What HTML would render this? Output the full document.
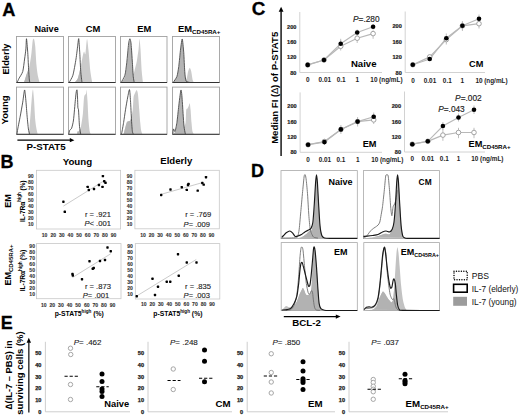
<!DOCTYPE html>
<html><head><meta charset="utf-8"><style>
html,body{margin:0;padding:0;background:#fff;width:520px;height:416px;overflow:hidden}
svg{display:block;font-family:"Liberation Sans", sans-serif}
</style></head><body>
<svg width="520" height="416" viewBox="0 0 520 416">
<rect x="0" y="0" width="520" height="416" fill="#fff"/>
<text x="2.2" y="15.7" font-size="18.2" font-weight="bold" font-style="normal" text-anchor="start" fill="#000" stroke="#000" stroke-width="0.3">A</text>
<text x="0.6" y="168.4" font-size="18" font-weight="bold" font-style="normal" text-anchor="start" fill="#000" stroke="#000" stroke-width="0.3">B</text>
<text x="251.8" y="15" font-size="18.8" font-weight="bold" font-style="normal" text-anchor="start" fill="#000" stroke="#000" stroke-width="0.3">C</text>
<text x="251.1" y="176.8" font-size="18" font-weight="bold" font-style="normal" text-anchor="start" fill="#000" stroke="#000" stroke-width="0.3">D</text>
<text x="0.7" y="329" font-size="18" font-weight="bold" font-style="normal" text-anchor="start" fill="#000" stroke="#000" stroke-width="0.3">E</text>
<text x="46.6" y="31.9" font-size="9.1" font-weight="bold" font-style="normal" text-anchor="middle" fill="#000">Naive</text>
<text x="93.1" y="31.9" font-size="9.4" font-weight="bold" font-style="normal" text-anchor="middle" fill="#000">CM</text>
<text x="144.2" y="31.9" font-size="9.4" font-weight="bold" font-style="normal" text-anchor="middle" fill="#000">EM</text>
<text x="178.0" y="31.9" font-size="9.4" font-weight="bold">EM<tspan font-size="6.2" dy="2.4">CD45RA+</tspan></text>
<text x="9.3" y="59.1" font-size="9.3" font-weight="bold" font-style="normal" text-anchor="middle" fill="#000" transform="rotate(-90 9.3 59.1)">Elderly</text>
<text x="8.2" y="109.9" font-size="9.6" font-weight="bold" font-style="normal" text-anchor="middle" fill="#000" transform="rotate(-90 8.2 109.9)">Young</text>
<path d="M24.00,82.50 C24.22,81.80 25.25,78.51 25.90,76.50 C26.55,74.49 28.95,68.02 29.60,65.25 C30.25,62.48 31.13,55.67 31.50,52.75 C31.87,49.83 32.46,41.85 32.75,40.25 C33.04,38.65 33.71,38.27 34.00,39.00 C34.29,39.73 34.96,43.44 35.25,46.50 C35.54,49.56 36.21,61.90 36.50,65.25 C36.79,68.60 37.39,73.24 37.75,75.25 C38.11,77.26 39.38,81.65 39.60,82.50 Z" fill="#cbcbcb" stroke="none"/>
<clipPath id="ca00"><path d="M24.00,82.50 C24.22,81.80 25.25,78.51 25.90,76.50 C26.55,74.49 28.95,68.02 29.60,65.25 C30.25,62.48 31.13,55.67 31.50,52.75 C31.87,49.83 32.46,41.85 32.75,40.25 C33.04,38.65 33.71,38.27 34.00,39.00 C34.29,39.73 34.96,43.44 35.25,46.50 C35.54,49.56 36.21,61.90 36.50,65.25 C36.79,68.60 37.39,73.24 37.75,75.25 C38.11,77.26 39.38,81.65 39.60,82.50 Z"/></clipPath>
<path d="M17.10,82.50 C17.32,82.02 18.34,79.68 19.00,78.40 C19.66,77.12 22.10,73.76 22.75,71.50 C23.40,69.24 24.23,61.62 24.60,59.00 C24.97,56.38 25.68,51.36 25.90,49.00 C26.12,46.64 26.28,38.31 26.50,38.75 C26.72,39.19 27.49,48.93 27.75,52.75 C28.01,56.57 28.53,68.15 28.75,71.50 C28.97,74.85 29.34,80.22 29.60,81.50 C29.86,82.78 30.84,82.38 31.00,82.50 Z" fill="#b4b4b4" clip-path="url(#ca00)"/>
<rect x="16.5" y="36.5" width="47" height="46" fill="none" stroke="#a0a0a0" stroke-width="0.9"/>
<line x1="16.5" y1="82.5" x2="63.5" y2="82.5" stroke="#333" stroke-width="1"/>
<path d="M17.10,82.50 C17.32,82.02 18.34,79.68 19.00,78.40 C19.66,77.12 22.10,73.76 22.75,71.50 C23.40,69.24 24.23,61.62 24.60,59.00 C24.97,56.38 25.68,51.36 25.90,49.00 C26.12,46.64 26.28,38.31 26.50,38.75 C26.72,39.19 27.49,48.93 27.75,52.75 C28.01,56.57 28.53,68.15 28.75,71.50 C28.97,74.85 29.34,80.22 29.60,81.50 C29.86,82.78 30.84,82.38 31.00,82.50" fill="none" stroke="#3c3c3c" stroke-width="0.85" stroke-linejoin="round"/>
<path d="M74.75,82.50 C75.13,81.97 77.27,80.01 78.00,78.00 C78.73,75.99 80.43,67.90 81.00,65.25 C81.57,62.60 82.54,56.85 82.90,55.25 C83.26,53.65 83.81,51.65 84.10,51.50 C84.39,51.35 85.06,55.46 85.40,54.00 C85.74,52.54 86.64,39.44 87.00,39.00 C87.36,38.56 88.10,46.46 88.50,50.25 C88.90,54.04 89.96,67.74 90.40,71.50 C90.84,75.26 92.03,81.22 92.25,82.50 Z" fill="#cbcbcb" stroke="none"/>
<clipPath id="ca01"><path d="M74.75,82.50 C75.13,81.97 77.27,80.01 78.00,78.00 C78.73,75.99 80.43,67.90 81.00,65.25 C81.57,62.60 82.54,56.85 82.90,55.25 C83.26,53.65 83.81,51.65 84.10,51.50 C84.39,51.35 85.06,55.46 85.40,54.00 C85.74,52.54 86.64,39.44 87.00,39.00 C87.36,38.56 88.10,46.46 88.50,50.25 C88.90,54.04 89.96,67.74 90.40,71.50 C90.84,75.26 92.03,81.22 92.25,82.50 Z"/></clipPath>
<path d="M69.10,82.50 C69.54,81.65 72.09,77.99 72.90,75.25 C73.71,72.51 75.42,62.65 76.00,59.00 C76.58,55.35 77.58,46.36 77.90,44.00 C78.22,41.64 78.53,37.73 78.75,38.75 C78.97,39.77 79.52,48.93 79.75,52.75 C79.98,56.57 80.49,68.03 80.75,71.50 C81.01,74.97 81.85,81.22 82.00,82.50 Z" fill="#b4b4b4" clip-path="url(#ca01)"/>
<rect x="68.5" y="36.5" width="47" height="46" fill="none" stroke="#a0a0a0" stroke-width="0.9"/>
<line x1="68.5" y1="82.5" x2="115.5" y2="82.5" stroke="#333" stroke-width="1"/>
<path d="M69.10,82.50 C69.54,81.65 72.09,77.99 72.90,75.25 C73.71,72.51 75.42,62.65 76.00,59.00 C76.58,55.35 77.58,46.36 77.90,44.00 C78.22,41.64 78.53,37.73 78.75,38.75 C78.97,39.77 79.52,48.93 79.75,52.75 C79.98,56.57 80.49,68.03 80.75,71.50 C81.01,74.97 81.85,81.22 82.00,82.50" fill="none" stroke="#3c3c3c" stroke-width="0.85" stroke-linejoin="round"/>
<path d="M121.50,82.50 C121.91,81.86 124.36,79.04 125.00,77.00 C125.64,74.96 126.56,68.50 127.00,65.00 C127.44,61.50 128.45,49.80 128.80,47.00 C129.15,44.20 129.72,41.00 130.00,41.00 C130.28,41.00 130.91,44.20 131.20,47.00 C131.49,49.80 132.23,61.85 132.50,65.00 C132.77,68.15 133.22,73.53 133.50,74.00 C133.78,74.47 134.52,70.46 134.90,69.00 C135.28,67.54 136.32,63.83 136.75,61.50 C137.18,59.17 138.28,51.62 138.60,49.00 C138.92,46.38 139.28,39.00 139.50,39.00 C139.72,39.00 140.24,45.21 140.50,49.00 C140.76,52.79 141.46,67.59 141.75,71.50 C142.04,75.41 142.85,81.22 143.00,82.50 Z" fill="#cbcbcb" stroke="none"/>
<clipPath id="ca02"><path d="M121.50,82.50 C121.91,81.86 124.36,79.04 125.00,77.00 C125.64,74.96 126.56,68.50 127.00,65.00 C127.44,61.50 128.45,49.80 128.80,47.00 C129.15,44.20 129.72,41.00 130.00,41.00 C130.28,41.00 130.91,44.20 131.20,47.00 C131.49,49.80 132.23,61.85 132.50,65.00 C132.77,68.15 133.22,73.53 133.50,74.00 C133.78,74.47 134.52,70.46 134.90,69.00 C135.28,67.54 136.32,63.83 136.75,61.50 C137.18,59.17 138.28,51.62 138.60,49.00 C138.92,46.38 139.28,39.00 139.50,39.00 C139.72,39.00 140.24,45.21 140.50,49.00 C140.76,52.79 141.46,67.59 141.75,71.50 C142.04,75.41 142.85,81.22 143.00,82.50 Z"/></clipPath>
<path d="M121.10,82.50 C121.54,81.65 124.24,77.55 124.90,75.25 C125.56,72.95 126.32,66.40 126.75,62.75 C127.18,59.10 128.23,46.80 128.60,44.00 C128.97,41.20 129.61,38.75 129.90,38.75 C130.19,38.75 130.81,41.20 131.10,44.00 C131.39,46.80 132.15,58.96 132.40,62.75 C132.65,66.54 133.03,74.20 133.25,76.50 C133.47,78.80 134.13,81.80 134.25,82.50 Z" fill="#b4b4b4" clip-path="url(#ca02)"/>
<rect x="120.5" y="36.5" width="46.5" height="46" fill="none" stroke="#a0a0a0" stroke-width="0.9"/>
<line x1="120.5" y1="82.5" x2="167" y2="82.5" stroke="#333" stroke-width="1"/>
<path d="M121.10,82.50 C121.54,81.65 124.24,77.55 124.90,75.25 C125.56,72.95 126.32,66.40 126.75,62.75 C127.18,59.10 128.23,46.80 128.60,44.00 C128.97,41.20 129.61,38.75 129.90,38.75 C130.19,38.75 130.81,41.20 131.10,44.00 C131.39,46.80 132.15,58.96 132.40,62.75 C132.65,66.54 133.03,74.20 133.25,76.50 C133.47,78.80 134.13,81.80 134.25,82.50" fill="none" stroke="#3c3c3c" stroke-width="0.85" stroke-linejoin="round"/>
<path d="M173.50,82.50 C173.91,81.86 176.36,78.81 177.00,77.00 C177.64,75.19 178.56,70.15 179.00,67.00 C179.44,63.85 180.43,53.09 180.80,50.00 C181.17,46.91 181.87,40.15 182.20,40.50 C182.53,40.85 183.32,49.44 183.60,53.00 C183.88,56.56 184.34,67.97 184.60,71.00 C184.86,74.03 185.53,78.21 185.80,79.00 C186.07,79.79 186.63,78.62 186.90,77.75 C187.17,76.88 187.77,72.67 188.10,71.50 C188.43,70.33 189.38,67.75 189.75,67.75 C190.12,67.75 190.90,70.04 191.25,71.50 C191.60,72.96 192.43,78.97 192.75,80.25 C193.07,81.53 193.85,82.24 194.00,82.50 Z" fill="#cbcbcb" stroke="none"/>
<clipPath id="ca03"><path d="M173.50,82.50 C173.91,81.86 176.36,78.81 177.00,77.00 C177.64,75.19 178.56,70.15 179.00,67.00 C179.44,63.85 180.43,53.09 180.80,50.00 C181.17,46.91 181.87,40.15 182.20,40.50 C182.53,40.85 183.32,49.44 183.60,53.00 C183.88,56.56 184.34,67.97 184.60,71.00 C184.86,74.03 185.53,78.21 185.80,79.00 C186.07,79.79 186.63,78.62 186.90,77.75 C187.17,76.88 187.77,72.67 188.10,71.50 C188.43,70.33 189.38,67.75 189.75,67.75 C190.12,67.75 190.90,70.04 191.25,71.50 C191.60,72.96 192.43,78.97 192.75,80.25 C193.07,81.53 193.85,82.24 194.00,82.50 Z"/></clipPath>
<path d="M173.10,82.50 C173.54,81.80 176.24,78.37 176.90,76.50 C177.56,74.63 178.32,69.71 178.75,66.50 C179.18,63.29 180.19,52.21 180.60,49.00 C181.01,45.79 181.88,38.56 182.25,39.00 C182.62,39.44 183.46,48.96 183.75,52.75 C184.04,56.54 184.49,68.22 184.75,71.50 C185.01,74.78 185.39,79.62 186.00,80.90 C186.61,82.18 189.53,82.31 190.00,82.50 Z" fill="#b4b4b4" clip-path="url(#ca03)"/>
<rect x="172.5" y="36.5" width="47" height="46" fill="none" stroke="#a0a0a0" stroke-width="0.9"/>
<line x1="172.5" y1="82.5" x2="219.5" y2="82.5" stroke="#333" stroke-width="1"/>
<path d="M173.10,82.50 C173.54,81.80 176.24,78.37 176.90,76.50 C177.56,74.63 178.32,69.71 178.75,66.50 C179.18,63.29 180.19,52.21 180.60,49.00 C181.01,45.79 181.88,38.56 182.25,39.00 C182.62,39.44 183.46,48.96 183.75,52.75 C184.04,56.54 184.49,68.22 184.75,71.50 C185.01,74.78 185.39,79.62 186.00,80.90 C186.61,82.18 189.53,82.31 190.00,82.50" fill="none" stroke="#3c3c3c" stroke-width="0.85" stroke-linejoin="round"/>
<path d="M28.75,134.30 C28.85,133.38 29.35,129.24 29.60,126.38 C29.85,123.52 30.61,113.51 30.90,109.78 C31.19,106.06 31.86,96.81 32.10,94.46 C32.34,92.10 32.78,89.01 33.00,89.60 C33.22,90.20 33.74,96.02 34.00,99.56 C34.26,103.11 34.96,116.57 35.25,120.00 C35.54,123.42 36.21,127.27 36.50,128.94 C36.79,130.61 37.60,133.67 37.75,134.30 Z" fill="#cbcbcb" stroke="none"/>
<clipPath id="ca10"><path d="M28.75,134.30 C28.85,133.38 29.35,129.24 29.60,126.38 C29.85,123.52 30.61,113.51 30.90,109.78 C31.19,106.06 31.86,96.81 32.10,94.46 C32.34,92.10 32.78,89.01 33.00,89.60 C33.22,90.20 33.74,96.02 34.00,99.56 C34.26,103.11 34.96,116.57 35.25,120.00 C35.54,123.42 36.21,127.27 36.50,128.94 C36.79,130.61 37.60,133.67 37.75,134.30 Z"/></clipPath>
<path d="M17.00,134.30 C17.09,133.67 17.37,131.05 17.75,128.94 C18.13,126.82 19.67,119.29 20.25,116.17 C20.83,113.04 22.24,105.18 22.75,102.12 C23.26,99.06 24.23,90.11 24.60,89.96 C24.97,89.81 25.61,97.78 25.90,100.84 C26.19,103.90 26.81,112.89 27.10,116.17 C27.39,119.44 28.11,126.82 28.40,128.94 C28.69,131.05 29.46,133.67 29.60,134.30 Z" fill="#b4b4b4" clip-path="url(#ca10)"/>
<rect x="16.5" y="87.1" width="47" height="47.2" fill="none" stroke="#a0a0a0" stroke-width="0.9"/>
<line x1="16.5" y1="134.3" x2="63.5" y2="134.3" stroke="#333" stroke-width="1"/>
<path d="M17.00,134.30 C17.09,133.67 17.37,131.05 17.75,128.94 C18.13,126.82 19.67,119.29 20.25,116.17 C20.83,113.04 22.24,105.18 22.75,102.12 C23.26,99.06 24.23,90.11 24.60,89.96 C24.97,89.81 25.61,97.78 25.90,100.84 C26.19,103.90 26.81,112.89 27.10,116.17 C27.39,119.44 28.11,126.82 28.40,128.94 C28.69,131.05 29.46,133.67 29.60,134.30" fill="none" stroke="#3c3c3c" stroke-width="0.85" stroke-linejoin="round"/>
<path d="M77.25,134.30 C77.28,133.97 77.30,131.85 77.50,131.49 C77.70,131.13 78.59,131.83 79.00,131.24 C79.41,130.64 80.55,128.44 81.00,126.38 C81.45,124.33 82.54,117.04 82.90,113.61 C83.26,110.18 83.74,99.32 84.10,97.01 C84.46,94.70 85.71,94.67 86.00,93.84 C86.29,93.02 86.42,89.14 86.60,89.96 C86.77,90.78 87.28,97.34 87.50,100.84 C87.72,104.35 88.24,116.42 88.50,120.00 C88.76,123.57 89.46,129.82 89.75,131.49 C90.04,133.16 90.85,133.97 91.00,134.30 Z" fill="#cbcbcb" stroke="none"/>
<clipPath id="ca11"><path d="M77.25,134.30 C77.28,133.97 77.30,131.85 77.50,131.49 C77.70,131.13 78.59,131.83 79.00,131.24 C79.41,130.64 80.55,128.44 81.00,126.38 C81.45,124.33 82.54,117.04 82.90,113.61 C83.26,110.18 83.74,99.32 84.10,97.01 C84.46,94.70 85.71,94.67 86.00,93.84 C86.29,93.02 86.42,89.14 86.60,89.96 C86.77,90.78 87.28,97.34 87.50,100.84 C87.72,104.35 88.24,116.42 88.50,120.00 C88.76,123.57 89.46,129.82 89.75,131.49 C90.04,133.16 90.85,133.97 91.00,134.30 Z"/></clipPath>
<path d="M68.75,134.30 C68.87,133.82 69.42,130.92 69.75,130.21 C70.08,129.51 71.16,129.46 71.60,128.27 C72.04,127.08 73.06,123.35 73.50,120.00 C73.94,116.65 75.08,102.84 75.40,99.56 C75.72,96.29 76.06,93.02 76.25,91.90 C76.44,90.78 76.85,89.36 77.00,89.96 C77.15,90.56 77.39,94.92 77.50,97.01 C77.61,99.10 77.78,106.35 77.90,107.84 C78.02,109.33 78.31,107.62 78.50,109.78 C78.69,111.94 79.24,123.52 79.50,126.38 C79.76,129.24 80.60,133.38 80.75,134.30 Z" fill="#b4b4b4" clip-path="url(#ca11)"/>
<rect x="68.5" y="87.1" width="47" height="47.2" fill="none" stroke="#a0a0a0" stroke-width="0.9"/>
<line x1="68.5" y1="134.3" x2="115.5" y2="134.3" stroke="#333" stroke-width="1"/>
<path d="M68.75,134.30 C68.87,133.82 69.42,130.92 69.75,130.21 C70.08,129.51 71.16,129.46 71.60,128.27 C72.04,127.08 73.06,123.35 73.50,120.00 C73.94,116.65 75.08,102.84 75.40,99.56 C75.72,96.29 76.06,93.02 76.25,91.90 C76.44,90.78 76.85,89.36 77.00,89.96 C77.15,90.56 77.39,94.92 77.50,97.01 C77.61,99.10 77.78,106.35 77.90,107.84 C78.02,109.33 78.31,107.62 78.50,109.78 C78.69,111.94 79.24,123.52 79.50,126.38 C79.76,129.24 80.60,133.38 80.75,134.30" fill="none" stroke="#3c3c3c" stroke-width="0.85" stroke-linejoin="round"/>
<path d="M123.60,134.30 C123.97,132.93 126.17,124.07 126.75,122.55 C127.33,121.03 128.16,121.57 128.60,121.27 C129.04,120.98 130.02,121.34 130.50,120.00 C130.98,118.66 132.39,112.46 132.75,109.78 C133.11,107.10 133.35,98.95 133.60,97.01 C133.85,95.07 134.53,94.00 134.90,93.18 C135.27,92.36 136.39,89.81 136.75,89.96 C137.11,90.11 137.71,92.14 138.00,94.46 C138.29,96.77 138.99,106.50 139.25,109.78 C139.51,113.06 140.03,120.17 140.25,122.55 C140.47,124.93 140.84,128.84 141.10,130.21 C141.36,131.58 142.34,133.82 142.50,134.30 Z" fill="#cbcbcb" stroke="none"/>
<clipPath id="ca12"><path d="M123.60,134.30 C123.97,132.93 126.17,124.07 126.75,122.55 C127.33,121.03 128.16,121.57 128.60,121.27 C129.04,120.98 130.02,121.34 130.50,120.00 C130.98,118.66 132.39,112.46 132.75,109.78 C133.11,107.10 133.35,98.95 133.60,97.01 C133.85,95.07 134.53,94.00 134.90,93.18 C135.27,92.36 136.39,89.81 136.75,89.96 C137.11,90.11 137.71,92.14 138.00,94.46 C138.29,96.77 138.99,106.50 139.25,109.78 C139.51,113.06 140.03,120.17 140.25,122.55 C140.47,124.93 140.84,128.84 141.10,130.21 C141.36,131.58 142.34,133.82 142.50,134.30 Z"/></clipPath>
<path d="M120.75,134.30 C120.87,134.12 121.42,134.14 121.75,132.77 C122.08,131.40 123.16,125.23 123.60,122.55 C124.04,119.87 125.02,112.76 125.50,109.78 C125.98,106.80 127.28,99.36 127.75,97.01 C128.22,94.66 129.18,89.16 129.50,89.60 C129.82,90.05 130.27,97.30 130.50,100.84 C130.73,104.39 131.28,116.42 131.50,120.00 C131.72,123.57 132.17,129.82 132.40,131.49 C132.63,133.16 133.37,133.97 133.50,134.30 Z" fill="#b4b4b4" clip-path="url(#ca12)"/>
<rect x="120.5" y="87.1" width="46.5" height="47.2" fill="none" stroke="#a0a0a0" stroke-width="0.9"/>
<line x1="120.5" y1="134.3" x2="167" y2="134.3" stroke="#333" stroke-width="1"/>
<path d="M120.75,134.30 C120.87,134.12 121.42,134.14 121.75,132.77 C122.08,131.40 123.16,125.23 123.60,122.55 C124.04,119.87 125.02,112.76 125.50,109.78 C125.98,106.80 127.28,99.36 127.75,97.01 C128.22,94.66 129.18,89.16 129.50,89.60 C129.82,90.05 130.27,97.30 130.50,100.84 C130.73,104.39 131.28,116.42 131.50,120.00 C131.72,123.57 132.17,129.82 132.40,131.49 C132.63,133.16 133.37,133.97 133.50,134.30" fill="none" stroke="#3c3c3c" stroke-width="0.85" stroke-linejoin="round"/>
<path d="M173.50,134.30 C173.73,133.94 175.09,132.55 175.50,131.24 C175.91,129.92 176.60,125.92 177.00,123.06 C177.40,120.20 178.55,109.70 178.90,106.72 C179.25,103.74 179.75,99.19 180.00,97.52 C180.25,95.85 180.78,92.41 181.00,92.41 C181.22,92.41 181.67,95.02 181.90,97.52 C182.13,100.02 182.75,110.53 183.00,113.87 C183.25,117.20 183.70,125.11 184.00,126.13 C184.30,127.14 185.34,124.46 185.60,122.55 C185.86,120.64 186.03,111.42 186.25,109.78 C186.47,108.14 187.21,108.95 187.50,108.50 C187.79,108.06 188.49,106.55 188.75,105.95 C189.01,105.35 189.53,102.95 189.75,103.40 C189.97,103.84 190.40,107.55 190.60,109.78 C190.80,112.02 191.28,120.02 191.50,122.55 C191.72,125.08 192.21,130.12 192.50,131.49 C192.79,132.86 193.82,133.97 194.00,134.30 Z" fill="#cbcbcb" stroke="none"/>
<clipPath id="ca13"><path d="M173.50,134.30 C173.73,133.94 175.09,132.55 175.50,131.24 C175.91,129.92 176.60,125.92 177.00,123.06 C177.40,120.20 178.55,109.70 178.90,106.72 C179.25,103.74 179.75,99.19 180.00,97.52 C180.25,95.85 180.78,92.41 181.00,92.41 C181.22,92.41 181.67,95.02 181.90,97.52 C182.13,100.02 182.75,110.53 183.00,113.87 C183.25,117.20 183.70,125.11 184.00,126.13 C184.30,127.14 185.34,124.46 185.60,122.55 C185.86,120.64 186.03,111.42 186.25,109.78 C186.47,108.14 187.21,108.95 187.50,108.50 C187.79,108.06 188.49,106.55 188.75,105.95 C189.01,105.35 189.53,102.95 189.75,103.40 C189.97,103.84 190.40,107.55 190.60,109.78 C190.80,112.02 191.28,120.02 191.50,122.55 C191.72,125.08 192.21,130.12 192.50,131.49 C192.79,132.86 193.82,133.97 194.00,134.30 Z"/></clipPath>
<path d="M172.75,134.30 C172.84,133.67 173.24,129.26 173.50,128.94 C173.76,128.61 174.60,132.24 175.00,131.49 C175.40,130.75 176.46,125.53 176.90,122.55 C177.34,119.57 178.39,109.08 178.75,105.95 C179.11,102.82 179.74,97.60 180.00,95.73 C180.26,93.87 180.78,89.96 181.00,89.96 C181.22,89.96 181.66,92.97 181.90,95.73 C182.15,98.49 182.85,110.04 183.10,113.61 C183.34,117.19 183.75,124.08 184.00,126.38 C184.25,128.69 185.02,132.46 185.25,133.38 C185.48,134.30 185.91,134.19 186.00,134.30 Z" fill="#b4b4b4" clip-path="url(#ca13)"/>
<rect x="172.5" y="87.1" width="47" height="47.2" fill="none" stroke="#a0a0a0" stroke-width="0.9"/>
<line x1="172.5" y1="134.3" x2="219.5" y2="134.3" stroke="#333" stroke-width="1"/>
<path d="M172.75,134.30 C172.84,133.67 173.24,129.26 173.50,128.94 C173.76,128.61 174.60,132.24 175.00,131.49 C175.40,130.75 176.46,125.53 176.90,122.55 C177.34,119.57 178.39,109.08 178.75,105.95 C179.11,102.82 179.74,97.60 180.00,95.73 C180.26,93.87 180.78,89.96 181.00,89.96 C181.22,89.96 181.66,92.97 181.90,95.73 C182.15,98.49 182.85,110.04 183.10,113.61 C183.34,117.19 183.75,124.08 184.00,126.38 C184.25,128.69 185.02,132.46 185.25,133.38 C185.48,134.30 185.91,134.19 186.00,134.30" fill="none" stroke="#3c3c3c" stroke-width="0.85" stroke-linejoin="round"/>
<line x1="17.4" y1="140.2" x2="70.3" y2="140.2" stroke="#000" stroke-width="1.3"/>
<path d="M74.4,140.2 L69.8,138.1 L69.8,142.3 Z" fill="#000"/>
<text x="46" y="150" font-size="9.5" font-weight="bold" font-style="normal" text-anchor="middle" fill="#000" textLength="39.2" lengthAdjust="spacingAndGlyphs">P-STAT5</text>
<text x="77.4" y="164.6" font-size="9.7" font-weight="bold" font-style="normal" text-anchor="middle" fill="#000">Young</text>
<text x="176.3" y="163.6" font-size="9.6" font-weight="bold" font-style="normal" text-anchor="middle" fill="#000">Elderly</text>
<rect x="36.4" y="170.3" width="84.2" height="58.7" fill="none" stroke="#c8c8c8" stroke-width="0.8"/>
<text x="33.6" y="177.7" font-size="5.1" font-weight="bold" font-style="normal" text-anchor="end" fill="#333" stroke="#333" stroke-width="0.1">90</text>
<text x="33.6" y="183.738" font-size="5.1" font-weight="bold" font-style="normal" text-anchor="end" fill="#333" stroke="#333" stroke-width="0.1">80</text>
<text x="33.6" y="189.775" font-size="5.1" font-weight="bold" font-style="normal" text-anchor="end" fill="#333" stroke="#333" stroke-width="0.1">70</text>
<text x="33.6" y="195.812" font-size="5.1" font-weight="bold" font-style="normal" text-anchor="end" fill="#333" stroke="#333" stroke-width="0.1">60</text>
<text x="33.6" y="201.85" font-size="5.1" font-weight="bold" font-style="normal" text-anchor="end" fill="#333" stroke="#333" stroke-width="0.1">50</text>
<text x="33.6" y="207.888" font-size="5.1" font-weight="bold" font-style="normal" text-anchor="end" fill="#333" stroke="#333" stroke-width="0.1">40</text>
<text x="33.6" y="213.925" font-size="5.1" font-weight="bold" font-style="normal" text-anchor="end" fill="#333" stroke="#333" stroke-width="0.1">30</text>
<text x="33.6" y="219.963" font-size="5.1" font-weight="bold" font-style="normal" text-anchor="end" fill="#333" stroke="#333" stroke-width="0.1">20</text>
<text x="33.6" y="226" font-size="5.1" font-weight="bold" font-style="normal" text-anchor="end" fill="#333" stroke="#333" stroke-width="0.1">10</text>
<text x="44.6" y="237.2" font-size="5.1" font-weight="bold" font-style="normal" text-anchor="middle" fill="#333" stroke="#333" stroke-width="0.1">10</text>
<text x="53.2125" y="237.2" font-size="5.1" font-weight="bold" font-style="normal" text-anchor="middle" fill="#333" stroke="#333" stroke-width="0.1">20</text>
<text x="61.825" y="237.2" font-size="5.1" font-weight="bold" font-style="normal" text-anchor="middle" fill="#333" stroke="#333" stroke-width="0.1">30</text>
<text x="70.4375" y="237.2" font-size="5.1" font-weight="bold" font-style="normal" text-anchor="middle" fill="#333" stroke="#333" stroke-width="0.1">40</text>
<text x="79.05" y="237.2" font-size="5.1" font-weight="bold" font-style="normal" text-anchor="middle" fill="#333" stroke="#333" stroke-width="0.1">50</text>
<text x="87.6625" y="237.2" font-size="5.1" font-weight="bold" font-style="normal" text-anchor="middle" fill="#333" stroke="#333" stroke-width="0.1">60</text>
<text x="96.275" y="237.2" font-size="5.1" font-weight="bold" font-style="normal" text-anchor="middle" fill="#333" stroke="#333" stroke-width="0.1">70</text>
<text x="104.888" y="237.2" font-size="5.1" font-weight="bold" font-style="normal" text-anchor="middle" fill="#333" stroke="#333" stroke-width="0.1">80</text>
<text x="113.5" y="237.2" font-size="5.1" font-weight="bold" font-style="normal" text-anchor="middle" fill="#333" stroke="#333" stroke-width="0.1">90</text>
<line x1="63.4" y1="206.1" x2="104.2" y2="180.7" stroke="#c4c4c4" stroke-width="0.9"/>
<rect x="62.2" y="200.5" width="2.4" height="2.4" rx="0.6" fill="#000"/>
<rect x="63.6" y="210.6" width="2.4" height="2.4" rx="0.6" fill="#000"/>
<rect x="86.5" y="185.7" width="2.4" height="2.4" rx="0.6" fill="#000"/>
<rect x="87.6" y="188.8" width="2.4" height="2.4" rx="0.6" fill="#000"/>
<rect x="92.8" y="187.8" width="2.4" height="2.4" rx="0.6" fill="#000"/>
<rect x="97.7" y="183.8" width="2.4" height="2.4" rx="0.6" fill="#000"/>
<rect x="101.7" y="174.9" width="2.4" height="2.4" rx="0.6" fill="#000"/>
<rect x="101.3" y="185.7" width="2.4" height="2.4" rx="0.6" fill="#000"/>
<rect x="103" y="180" width="2.4" height="2.4" rx="0.6" fill="#000"/>
<rect x="104.3" y="181.6" width="2.4" height="2.4" rx="0.6" fill="#000"/>
<text x="110.9" y="217" font-size="7.6" font-weight="normal" font-style="normal" text-anchor="end" fill="#1a1a1a" stroke="#1a1a1a" stroke-width="0.12">r = .921</text>
<text x="110.9" y="226.4" font-size="7.6" text-anchor="end" fill="#1a1a1a" stroke="#1a1a1a" stroke-width="0.12"><tspan font-style="italic">P</tspan>&lt; .001</text>
<rect x="134.9" y="170.3" width="84.4" height="58.5" fill="none" stroke="#c8c8c8" stroke-width="0.8"/>
<text x="132.4" y="177.7" font-size="5.1" font-weight="bold" font-style="normal" text-anchor="end" fill="#333" stroke="#333" stroke-width="0.1">90</text>
<text x="132.4" y="183.738" font-size="5.1" font-weight="bold" font-style="normal" text-anchor="end" fill="#333" stroke="#333" stroke-width="0.1">80</text>
<text x="132.4" y="189.775" font-size="5.1" font-weight="bold" font-style="normal" text-anchor="end" fill="#333" stroke="#333" stroke-width="0.1">70</text>
<text x="132.4" y="195.812" font-size="5.1" font-weight="bold" font-style="normal" text-anchor="end" fill="#333" stroke="#333" stroke-width="0.1">60</text>
<text x="132.4" y="201.85" font-size="5.1" font-weight="bold" font-style="normal" text-anchor="end" fill="#333" stroke="#333" stroke-width="0.1">50</text>
<text x="132.4" y="207.888" font-size="5.1" font-weight="bold" font-style="normal" text-anchor="end" fill="#333" stroke="#333" stroke-width="0.1">40</text>
<text x="132.4" y="213.925" font-size="5.1" font-weight="bold" font-style="normal" text-anchor="end" fill="#333" stroke="#333" stroke-width="0.1">30</text>
<text x="132.4" y="219.963" font-size="5.1" font-weight="bold" font-style="normal" text-anchor="end" fill="#333" stroke="#333" stroke-width="0.1">20</text>
<text x="132.4" y="226" font-size="5.1" font-weight="bold" font-style="normal" text-anchor="end" fill="#333" stroke="#333" stroke-width="0.1">10</text>
<text x="143" y="236.9" font-size="5.1" font-weight="bold" font-style="normal" text-anchor="middle" fill="#333" stroke="#333" stroke-width="0.1">10</text>
<text x="151.562" y="236.9" font-size="5.1" font-weight="bold" font-style="normal" text-anchor="middle" fill="#333" stroke="#333" stroke-width="0.1">20</text>
<text x="160.125" y="236.9" font-size="5.1" font-weight="bold" font-style="normal" text-anchor="middle" fill="#333" stroke="#333" stroke-width="0.1">30</text>
<text x="168.688" y="236.9" font-size="5.1" font-weight="bold" font-style="normal" text-anchor="middle" fill="#333" stroke="#333" stroke-width="0.1">40</text>
<text x="177.25" y="236.9" font-size="5.1" font-weight="bold" font-style="normal" text-anchor="middle" fill="#333" stroke="#333" stroke-width="0.1">50</text>
<text x="185.812" y="236.9" font-size="5.1" font-weight="bold" font-style="normal" text-anchor="middle" fill="#333" stroke="#333" stroke-width="0.1">60</text>
<text x="194.375" y="236.9" font-size="5.1" font-weight="bold" font-style="normal" text-anchor="middle" fill="#333" stroke="#333" stroke-width="0.1">70</text>
<text x="202.938" y="236.9" font-size="5.1" font-weight="bold" font-style="normal" text-anchor="middle" fill="#333" stroke="#333" stroke-width="0.1">80</text>
<text x="211.5" y="236.9" font-size="5.1" font-weight="bold" font-style="normal" text-anchor="middle" fill="#333" stroke="#333" stroke-width="0.1">90</text>
<line x1="161.2" y1="194.3" x2="203.5" y2="182.3" stroke="#c4c4c4" stroke-width="0.9"/>
<rect x="160" y="193.8" width="2.4" height="2.4" rx="0.6" fill="#000"/>
<rect x="169.3" y="188.3" width="2.4" height="2.4" rx="0.6" fill="#000"/>
<rect x="180.6" y="186" width="2.4" height="2.4" rx="0.6" fill="#000"/>
<rect x="186.8" y="183.9" width="2.4" height="2.4" rx="0.6" fill="#000"/>
<rect x="187.3" y="182.7" width="2.4" height="2.4" rx="0.6" fill="#000"/>
<rect x="185.6" y="188.7" width="2.4" height="2.4" rx="0.6" fill="#000"/>
<rect x="196.5" y="189.4" width="2.4" height="2.4" rx="0.6" fill="#000"/>
<rect x="201.1" y="181.8" width="2.4" height="2.4" rx="0.6" fill="#000"/>
<rect x="202.5" y="183.4" width="2.4" height="2.4" rx="0.6" fill="#000"/>
<rect x="204.8" y="176" width="2.4" height="2.4" rx="0.6" fill="#000"/>
<text x="211.2" y="217" font-size="7.6" font-weight="normal" font-style="normal" text-anchor="end" fill="#1a1a1a" stroke="#1a1a1a" stroke-width="0.12">r = .769</text>
<text x="210" y="226.5" font-size="7.6" text-anchor="end" fill="#1a1a1a" stroke="#1a1a1a" stroke-width="0.12"><tspan font-style="italic">P</tspan>= .009</text>
<rect x="36.5" y="243.6" width="84.5" height="55.1" fill="none" stroke="#c8c8c8" stroke-width="0.8"/>
<text x="35" y="248.3" font-size="5.1" font-weight="bold" font-style="normal" text-anchor="end" fill="#333" stroke="#333" stroke-width="0.1">90</text>
<text x="35" y="254.263" font-size="5.1" font-weight="bold" font-style="normal" text-anchor="end" fill="#333" stroke="#333" stroke-width="0.1">80</text>
<text x="35" y="260.225" font-size="5.1" font-weight="bold" font-style="normal" text-anchor="end" fill="#333" stroke="#333" stroke-width="0.1">70</text>
<text x="35" y="266.188" font-size="5.1" font-weight="bold" font-style="normal" text-anchor="end" fill="#333" stroke="#333" stroke-width="0.1">60</text>
<text x="35" y="272.15" font-size="5.1" font-weight="bold" font-style="normal" text-anchor="end" fill="#333" stroke="#333" stroke-width="0.1">50</text>
<text x="35" y="278.113" font-size="5.1" font-weight="bold" font-style="normal" text-anchor="end" fill="#333" stroke="#333" stroke-width="0.1">40</text>
<text x="35" y="284.075" font-size="5.1" font-weight="bold" font-style="normal" text-anchor="end" fill="#333" stroke="#333" stroke-width="0.1">30</text>
<text x="35" y="290.038" font-size="5.1" font-weight="bold" font-style="normal" text-anchor="end" fill="#333" stroke="#333" stroke-width="0.1">20</text>
<text x="35" y="296" font-size="5.1" font-weight="bold" font-style="normal" text-anchor="end" fill="#333" stroke="#333" stroke-width="0.1">10</text>
<text x="43.75" y="306.8" font-size="5.1" font-weight="bold" font-style="normal" text-anchor="middle" fill="#333" stroke="#333" stroke-width="0.1">10</text>
<text x="52.3438" y="306.8" font-size="5.1" font-weight="bold" font-style="normal" text-anchor="middle" fill="#333" stroke="#333" stroke-width="0.1">20</text>
<text x="60.9375" y="306.8" font-size="5.1" font-weight="bold" font-style="normal" text-anchor="middle" fill="#333" stroke="#333" stroke-width="0.1">30</text>
<text x="69.5312" y="306.8" font-size="5.1" font-weight="bold" font-style="normal" text-anchor="middle" fill="#333" stroke="#333" stroke-width="0.1">40</text>
<text x="78.125" y="306.8" font-size="5.1" font-weight="bold" font-style="normal" text-anchor="middle" fill="#333" stroke="#333" stroke-width="0.1">50</text>
<text x="86.7188" y="306.8" font-size="5.1" font-weight="bold" font-style="normal" text-anchor="middle" fill="#333" stroke="#333" stroke-width="0.1">60</text>
<text x="95.3125" y="306.8" font-size="5.1" font-weight="bold" font-style="normal" text-anchor="middle" fill="#333" stroke="#333" stroke-width="0.1">70</text>
<text x="103.906" y="306.8" font-size="5.1" font-weight="bold" font-style="normal" text-anchor="middle" fill="#333" stroke="#333" stroke-width="0.1">80</text>
<text x="112.5" y="306.8" font-size="5.1" font-weight="bold" font-style="normal" text-anchor="middle" fill="#333" stroke="#333" stroke-width="0.1">90</text>
<line x1="72.5" y1="277.5" x2="110.75" y2="253.75" stroke="#c4c4c4" stroke-width="0.9"/>
<rect x="71.3" y="272.8" width="2.4" height="2.4" rx="0.6" fill="#000"/>
<rect x="71.6" y="274.3" width="2.4" height="2.4" rx="0.6" fill="#000"/>
<rect x="80.8" y="278.05" width="2.4" height="2.4" rx="0.6" fill="#000"/>
<rect x="88.3" y="260.05" width="2.4" height="2.4" rx="0.6" fill="#000"/>
<rect x="91.55" y="267.55" width="2.4" height="2.4" rx="0.6" fill="#000"/>
<rect x="92.55" y="266.8" width="2.4" height="2.4" rx="0.6" fill="#000"/>
<rect x="98.8" y="259.8" width="2.4" height="2.4" rx="0.6" fill="#000"/>
<rect x="103.8" y="258.8" width="2.4" height="2.4" rx="0.6" fill="#000"/>
<rect x="106.3" y="246.3" width="2.4" height="2.4" rx="0.6" fill="#000"/>
<rect x="109.55" y="250.05" width="2.4" height="2.4" rx="0.6" fill="#000"/>
<text x="110.9" y="288.6" font-size="7.6" font-weight="normal" font-style="normal" text-anchor="end" fill="#1a1a1a" stroke="#1a1a1a" stroke-width="0.12">r = .873</text>
<text x="109.2" y="297.6" font-size="7.6" text-anchor="end" fill="#1a1a1a" stroke="#1a1a1a" stroke-width="0.12"><tspan font-style="italic">P</tspan>= .001</text>
<rect x="135.3" y="243.6" width="84.5" height="55.4" fill="none" stroke="#c8c8c8" stroke-width="0.8"/>
<text x="132.8" y="248.3" font-size="5.1" font-weight="bold" font-style="normal" text-anchor="end" fill="#333" stroke="#333" stroke-width="0.1">90</text>
<text x="132.8" y="254.263" font-size="5.1" font-weight="bold" font-style="normal" text-anchor="end" fill="#333" stroke="#333" stroke-width="0.1">80</text>
<text x="132.8" y="260.225" font-size="5.1" font-weight="bold" font-style="normal" text-anchor="end" fill="#333" stroke="#333" stroke-width="0.1">70</text>
<text x="132.8" y="266.188" font-size="5.1" font-weight="bold" font-style="normal" text-anchor="end" fill="#333" stroke="#333" stroke-width="0.1">60</text>
<text x="132.8" y="272.15" font-size="5.1" font-weight="bold" font-style="normal" text-anchor="end" fill="#333" stroke="#333" stroke-width="0.1">50</text>
<text x="132.8" y="278.113" font-size="5.1" font-weight="bold" font-style="normal" text-anchor="end" fill="#333" stroke="#333" stroke-width="0.1">40</text>
<text x="132.8" y="284.075" font-size="5.1" font-weight="bold" font-style="normal" text-anchor="end" fill="#333" stroke="#333" stroke-width="0.1">30</text>
<text x="132.8" y="290.038" font-size="5.1" font-weight="bold" font-style="normal" text-anchor="end" fill="#333" stroke="#333" stroke-width="0.1">20</text>
<text x="132.8" y="296" font-size="5.1" font-weight="bold" font-style="normal" text-anchor="end" fill="#333" stroke="#333" stroke-width="0.1">10</text>
<text x="143.75" y="306.3" font-size="5.1" font-weight="bold" font-style="normal" text-anchor="middle" fill="#333" stroke="#333" stroke-width="0.1">10</text>
<text x="152.281" y="306.3" font-size="5.1" font-weight="bold" font-style="normal" text-anchor="middle" fill="#333" stroke="#333" stroke-width="0.1">20</text>
<text x="160.812" y="306.3" font-size="5.1" font-weight="bold" font-style="normal" text-anchor="middle" fill="#333" stroke="#333" stroke-width="0.1">30</text>
<text x="169.344" y="306.3" font-size="5.1" font-weight="bold" font-style="normal" text-anchor="middle" fill="#333" stroke="#333" stroke-width="0.1">40</text>
<text x="177.875" y="306.3" font-size="5.1" font-weight="bold" font-style="normal" text-anchor="middle" fill="#333" stroke="#333" stroke-width="0.1">50</text>
<text x="186.406" y="306.3" font-size="5.1" font-weight="bold" font-style="normal" text-anchor="middle" fill="#333" stroke="#333" stroke-width="0.1">60</text>
<text x="194.938" y="306.3" font-size="5.1" font-weight="bold" font-style="normal" text-anchor="middle" fill="#333" stroke="#333" stroke-width="0.1">70</text>
<text x="203.469" y="306.3" font-size="5.1" font-weight="bold" font-style="normal" text-anchor="middle" fill="#333" stroke="#333" stroke-width="0.1">80</text>
<text x="212" y="306.3" font-size="5.1" font-weight="bold" font-style="normal" text-anchor="middle" fill="#333" stroke="#333" stroke-width="0.1">90</text>
<line x1="137.5" y1="295.5" x2="196.25" y2="259.5" stroke="#c4c4c4" stroke-width="0.9"/>
<rect x="135.55" y="295.05" width="2.4" height="2.4" rx="0.6" fill="#000"/>
<rect x="151.3" y="277.55" width="2.4" height="2.4" rx="0.6" fill="#000"/>
<rect x="153.8" y="293.8" width="2.4" height="2.4" rx="0.6" fill="#000"/>
<rect x="156.8" y="285.55" width="2.4" height="2.4" rx="0.6" fill="#000"/>
<rect x="165.55" y="280.55" width="2.4" height="2.4" rx="0.6" fill="#000"/>
<rect x="169.05" y="280.55" width="2.4" height="2.4" rx="0.6" fill="#000"/>
<rect x="176.8" y="253.05" width="2.4" height="2.4" rx="0.6" fill="#000"/>
<rect x="177.55" y="274.55" width="2.4" height="2.4" rx="0.6" fill="#000"/>
<rect x="185.55" y="261.3" width="2.4" height="2.4" rx="0.6" fill="#000"/>
<rect x="195.3" y="261.3" width="2.4" height="2.4" rx="0.6" fill="#000"/>
<text x="211" y="288.6" font-size="7.6" font-weight="normal" font-style="normal" text-anchor="end" fill="#1a1a1a" stroke="#1a1a1a" stroke-width="0.12">r = .835</text>
<text x="210" y="297.6" font-size="7.6" text-anchor="end" fill="#1a1a1a" stroke="#1a1a1a" stroke-width="0.12"><tspan font-style="italic">P</tspan>= .003</text>
<text x="10.6" y="201" font-size="9" font-weight="bold" font-style="normal" text-anchor="middle" fill="#000" transform="rotate(-90 10.6 201)">EM</text>
<text x="10.6" y="285.6" font-size="9.0" font-weight="bold" transform="rotate(-90 10.6 285.6)">EM<tspan font-size="6.0" dy="2.0">CD45RA+</tspan></text>
<text x="25" y="201.2" font-size="6.7" font-weight="bold" text-anchor="middle" letter-spacing="-0.1" transform="rotate(-90 25 201.2)">IL-7R&#945;<tspan font-size="4.6" dy="-3.8">high</tspan><tspan dy="3.8"> (%)</tspan></text>
<text x="25.4" y="270.5" font-size="6.7" font-weight="bold" text-anchor="middle" letter-spacing="-0.1" transform="rotate(-90 25.4 270.5)">IL-7R&#945;<tspan font-size="4.6" dy="-3.8">high</tspan><tspan dy="3.8"> (%)</tspan></text>
<text x="79.2" y="316.0" font-size="6.8" font-weight="bold" text-anchor="middle">p-STAT5<tspan font-size="4.6" dy="-2.8">high</tspan><tspan dy="2.8"> (%)</tspan></text>
<text x="177.9" y="316.0" font-size="6.8" font-weight="bold" text-anchor="middle">p-STAT5<tspan font-size="4.6" dy="-2.8">high</tspan><tspan dy="2.8"> (%)</tspan></text>
<line x1="299.8" y1="12" x2="299.8" y2="72.5" stroke="#d2d2d2" stroke-width="1"/>
<line x1="299.8" y1="72.5" x2="382" y2="72.5" stroke="#d2d2d2" stroke-width="1"/>
<text x="296.4" y="28.6" font-size="5.6" font-weight="bold" font-style="normal" text-anchor="end" fill="#222" stroke="#222" stroke-width="0.2">200</text>
<text x="296.4" y="43.9" font-size="5.6" font-weight="bold" font-style="normal" text-anchor="end" fill="#222" stroke="#222" stroke-width="0.2">160</text>
<text x="296.4" y="59.2" font-size="5.6" font-weight="bold" font-style="normal" text-anchor="end" fill="#222" stroke="#222" stroke-width="0.2">120</text>
<text x="296.4" y="74.5" font-size="5.6" font-weight="bold" font-style="normal" text-anchor="end" fill="#222" stroke="#222" stroke-width="0.2">80</text>
<text x="307.7" y="82.4" font-size="6.4" font-weight="bold" font-style="normal" text-anchor="middle" fill="#222">0</text>
<text x="324.8" y="82.4" font-size="6.4" font-weight="bold" font-style="normal" text-anchor="middle" fill="#222">0.01</text>
<text x="341.2" y="82.4" font-size="6.4" font-weight="bold" font-style="normal" text-anchor="middle" fill="#222">0.1</text>
<text x="357.2" y="82.4" font-size="6.4" font-weight="bold" font-style="normal" text-anchor="middle" fill="#222">1</text>
<text x="373.9" y="82.4" font-size="6.4" font-weight="bold" font-style="normal" text-anchor="middle" fill="#222">10</text>
<text x="379.1" y="82.4" font-size="6.4" font-weight="bold" fill="#222">(ng/mL)</text>
<line x1="324" y1="57.5" x2="324" y2="62.5" stroke="#b8b8b8" stroke-width="0.9"/>
<line x1="340.7" y1="38.8" x2="340.7" y2="50.5" stroke="#b8b8b8" stroke-width="0.9"/>
<line x1="357.2" y1="35.7" x2="357.2" y2="43" stroke="#b8b8b8" stroke-width="0.9"/>
<line x1="373.1" y1="30.4" x2="373.1" y2="38.8" stroke="#b8b8b8" stroke-width="0.9"/>
<line x1="340.7" y1="40" x2="340.7" y2="47" stroke="#b8b8b8" stroke-width="0.9"/>
<line x1="357.2" y1="29.5" x2="357.2" y2="35.5" stroke="#b8b8b8" stroke-width="0.9"/>
<line x1="373.1" y1="24" x2="373.1" y2="29.5" stroke="#b8b8b8" stroke-width="0.9"/>
<polyline points="307.7,64.9 324,60 340.7,46.3 357.2,38.2 373.1,33.6" fill="none" stroke="#b8b8b8" stroke-width="1.2"/>
<polyline points="307.7,64.9 324,60 340.7,43.7 357.2,32.5 373.1,26.8" fill="none" stroke="#b8b8b8" stroke-width="1.2"/>
<circle cx="307.7" cy="64.9" r="2.3" fill="#fff" stroke="#999" stroke-width="0.9"/>
<circle cx="324" cy="60" r="2.3" fill="#fff" stroke="#999" stroke-width="0.9"/>
<circle cx="340.7" cy="46.3" r="2.3" fill="#fff" stroke="#999" stroke-width="0.9"/>
<circle cx="357.2" cy="38.2" r="2.3" fill="#fff" stroke="#999" stroke-width="0.9"/>
<circle cx="373.1" cy="33.6" r="2.3" fill="#fff" stroke="#999" stroke-width="0.9"/>
<circle cx="307.7" cy="64.9" r="2.3" fill="#000" stroke="none" stroke-width="1"/>
<circle cx="324" cy="60" r="2.3" fill="#000" stroke="none" stroke-width="1"/>
<circle cx="340.7" cy="43.7" r="2.3" fill="#000" stroke="none" stroke-width="1"/>
<circle cx="357.2" cy="32.5" r="2.3" fill="#000" stroke="none" stroke-width="1"/>
<circle cx="373.1" cy="26.8" r="2.3" fill="#000" stroke="none" stroke-width="1"/>
<line x1="405.2" y1="11.5" x2="405.2" y2="72.5" stroke="#d2d2d2" stroke-width="1"/>
<line x1="405.2" y1="72.5" x2="485" y2="72.5" stroke="#d2d2d2" stroke-width="1"/>
<text x="401.8" y="28.3" font-size="5.6" font-weight="bold" font-style="normal" text-anchor="end" fill="#222" stroke="#222" stroke-width="0.2">200</text>
<text x="401.8" y="43.7" font-size="5.6" font-weight="bold" font-style="normal" text-anchor="end" fill="#222" stroke="#222" stroke-width="0.2">160</text>
<text x="401.8" y="59.1" font-size="5.6" font-weight="bold" font-style="normal" text-anchor="end" fill="#222" stroke="#222" stroke-width="0.2">120</text>
<text x="401.8" y="74.5" font-size="5.6" font-weight="bold" font-style="normal" text-anchor="end" fill="#222" stroke="#222" stroke-width="0.2">80</text>
<text x="413.1" y="83.1" font-size="6.4" font-weight="bold" font-style="normal" text-anchor="middle" fill="#222">0</text>
<text x="430" y="83.1" font-size="6.4" font-weight="bold" font-style="normal" text-anchor="middle" fill="#222">0.01</text>
<text x="447.3" y="83.1" font-size="6.4" font-weight="bold" font-style="normal" text-anchor="middle" fill="#222">0.1</text>
<text x="462.4" y="83.1" font-size="6.4" font-weight="bold" font-style="normal" text-anchor="middle" fill="#222">1</text>
<text x="479" y="83.1" font-size="6.4" font-weight="bold" font-style="normal" text-anchor="middle" fill="#222">10</text>
<text x="484.2" y="83.1" font-size="6.4" font-weight="bold" fill="#222">(ng/mL)</text>
<line x1="446.3" y1="38" x2="446.3" y2="44.5" stroke="#b8b8b8" stroke-width="0.9"/>
<line x1="462.4" y1="21" x2="462.4" y2="31" stroke="#b8b8b8" stroke-width="0.9"/>
<line x1="479" y1="19" x2="479" y2="28.5" stroke="#b8b8b8" stroke-width="0.9"/>
<line x1="446.3" y1="33.5" x2="446.3" y2="42" stroke="#b8b8b8" stroke-width="0.9"/>
<line x1="462.4" y1="22" x2="462.4" y2="29.5" stroke="#b8b8b8" stroke-width="0.9"/>
<line x1="479" y1="14.5" x2="479" y2="22.5" stroke="#b8b8b8" stroke-width="0.9"/>
<polyline points="412.8,64.7 429.7,56.9 446.3,39.6 462.4,25.8 479,23.7" fill="none" stroke="#b8b8b8" stroke-width="1.2"/>
<polyline points="412.8,64.7 429.7,59 446.3,38.2 462.4,25.8 479,18.8" fill="none" stroke="#b8b8b8" stroke-width="1.2"/>
<circle cx="412.8" cy="64.7" r="2.3" fill="#fff" stroke="#999" stroke-width="0.9"/>
<circle cx="429.7" cy="56.9" r="2.3" fill="#fff" stroke="#999" stroke-width="0.9"/>
<circle cx="446.3" cy="39.6" r="2.3" fill="#fff" stroke="#999" stroke-width="0.9"/>
<circle cx="462.4" cy="25.8" r="2.3" fill="#fff" stroke="#999" stroke-width="0.9"/>
<circle cx="479" cy="23.7" r="2.3" fill="#fff" stroke="#999" stroke-width="0.9"/>
<circle cx="412.8" cy="64.7" r="2.3" fill="#000" stroke="none" stroke-width="1"/>
<circle cx="429.7" cy="59" r="2.3" fill="#000" stroke="none" stroke-width="1"/>
<circle cx="446.3" cy="38.2" r="2.3" fill="#000" stroke="none" stroke-width="1"/>
<circle cx="462.4" cy="25.8" r="2.3" fill="#000" stroke="none" stroke-width="1"/>
<circle cx="479" cy="18.8" r="2.3" fill="#000" stroke="none" stroke-width="1"/>
<line x1="300.1" y1="92.4" x2="300.1" y2="152.3" stroke="#d2d2d2" stroke-width="1"/>
<line x1="300.1" y1="152.3" x2="382" y2="152.3" stroke="#d2d2d2" stroke-width="1"/>
<text x="296.7" y="108.2" font-size="5.6" font-weight="bold" font-style="normal" text-anchor="end" fill="#222" stroke="#222" stroke-width="0.2">200</text>
<text x="296.7" y="123.567" font-size="5.6" font-weight="bold" font-style="normal" text-anchor="end" fill="#222" stroke="#222" stroke-width="0.2">160</text>
<text x="296.7" y="138.933" font-size="5.6" font-weight="bold" font-style="normal" text-anchor="end" fill="#222" stroke="#222" stroke-width="0.2">120</text>
<text x="296.7" y="154.3" font-size="5.6" font-weight="bold" font-style="normal" text-anchor="end" fill="#222" stroke="#222" stroke-width="0.2">80</text>
<text x="308.1" y="161.5" font-size="6.4" font-weight="bold" font-style="normal" text-anchor="middle" fill="#222">0</text>
<text x="324.9" y="161.5" font-size="6.4" font-weight="bold" font-style="normal" text-anchor="middle" fill="#222">0.01</text>
<text x="340.9" y="161.5" font-size="6.4" font-weight="bold" font-style="normal" text-anchor="middle" fill="#222">0.1</text>
<text x="357.9" y="161.5" font-size="6.4" font-weight="bold" font-style="normal" text-anchor="middle" fill="#222">1</text>
<text x="374.7" y="161.5" font-size="6.4" font-weight="bold" font-style="normal" text-anchor="middle" fill="#222">10</text>
<text x="379.9" y="161.5" font-size="6.4" font-weight="bold" fill="#222">(ng/mL)</text>
<line x1="340.9" y1="125" x2="340.9" y2="134" stroke="#b8b8b8" stroke-width="0.9"/>
<line x1="357.6" y1="117" x2="357.6" y2="126.5" stroke="#b8b8b8" stroke-width="0.9"/>
<line x1="373.7" y1="114.5" x2="373.7" y2="124" stroke="#b8b8b8" stroke-width="0.9"/>
<line x1="324.4" y1="139.5" x2="324.4" y2="144.5" stroke="#b8b8b8" stroke-width="0.9"/>
<line x1="373.7" y1="112.5" x2="373.7" y2="120.5" stroke="#b8b8b8" stroke-width="0.9"/>
<polyline points="308.1,144.7 324.4,141.5 340.9,129.4 357.6,121.6 373.7,119.9" fill="none" stroke="#b8b8b8" stroke-width="1.2"/>
<polyline points="308.1,144.7 324.4,142.1 340.9,129.4 357.6,121.6 373.7,116.7" fill="none" stroke="#b8b8b8" stroke-width="1.2"/>
<circle cx="308.1" cy="144.7" r="2.3" fill="#fff" stroke="#999" stroke-width="0.9"/>
<circle cx="324.4" cy="141.5" r="2.3" fill="#fff" stroke="#999" stroke-width="0.9"/>
<circle cx="340.9" cy="129.4" r="2.3" fill="#fff" stroke="#999" stroke-width="0.9"/>
<circle cx="357.6" cy="121.6" r="2.3" fill="#fff" stroke="#999" stroke-width="0.9"/>
<circle cx="373.7" cy="119.9" r="2.3" fill="#fff" stroke="#999" stroke-width="0.9"/>
<circle cx="308.1" cy="144.7" r="2.3" fill="#000" stroke="none" stroke-width="1"/>
<circle cx="324.4" cy="142.1" r="2.3" fill="#000" stroke="none" stroke-width="1"/>
<circle cx="340.9" cy="129.4" r="2.3" fill="#000" stroke="none" stroke-width="1"/>
<circle cx="357.6" cy="121.6" r="2.3" fill="#000" stroke="none" stroke-width="1"/>
<circle cx="373.7" cy="116.7" r="2.3" fill="#000" stroke="none" stroke-width="1"/>
<line x1="404.5" y1="91.5" x2="404.5" y2="152" stroke="#d2d2d2" stroke-width="1"/>
<line x1="404.5" y1="152" x2="485" y2="152" stroke="#d2d2d2" stroke-width="1"/>
<text x="401.1" y="108.3" font-size="5.6" font-weight="bold" font-style="normal" text-anchor="end" fill="#222" stroke="#222" stroke-width="0.2">200</text>
<text x="401.1" y="123.533" font-size="5.6" font-weight="bold" font-style="normal" text-anchor="end" fill="#222" stroke="#222" stroke-width="0.2">160</text>
<text x="401.1" y="138.767" font-size="5.6" font-weight="bold" font-style="normal" text-anchor="end" fill="#222" stroke="#222" stroke-width="0.2">120</text>
<text x="401.1" y="154" font-size="5.6" font-weight="bold" font-style="normal" text-anchor="end" fill="#222" stroke="#222" stroke-width="0.2">80</text>
<text x="412.3" y="160.6" font-size="6.4" font-weight="bold" font-style="normal" text-anchor="middle" fill="#222">0</text>
<text x="427.8" y="160.6" font-size="6.4" font-weight="bold" font-style="normal" text-anchor="middle" fill="#222">0.01</text>
<text x="444.3" y="160.6" font-size="6.4" font-weight="bold" font-style="normal" text-anchor="middle" fill="#222">0.1</text>
<text x="458.5" y="160.6" font-size="6.4" font-weight="bold" font-style="normal" text-anchor="middle" fill="#222">1</text>
<text x="474.8" y="160.6" font-size="6.4" font-weight="bold" font-style="normal" text-anchor="middle" fill="#222">10</text>
<text x="480" y="160.6" font-size="6.4" font-weight="bold" fill="#222">(ng/mL)</text>
<line x1="442.9" y1="129.1" x2="442.9" y2="140.8" stroke="#b8b8b8" stroke-width="0.9"/>
<line x1="458.5" y1="127.8" x2="458.5" y2="138.2" stroke="#b8b8b8" stroke-width="0.9"/>
<line x1="474" y1="127.8" x2="474" y2="138.2" stroke="#b8b8b8" stroke-width="0.9"/>
<line x1="442.9" y1="122" x2="442.9" y2="130" stroke="#b8b8b8" stroke-width="0.9"/>
<line x1="458.5" y1="113.5" x2="458.5" y2="121.5" stroke="#b8b8b8" stroke-width="0.9"/>
<line x1="474" y1="105.5" x2="474" y2="114" stroke="#b8b8b8" stroke-width="0.9"/>
<polyline points="412.3,144.2 427.8,141.3 442.9,135.1 458.5,132.5 474,132.5" fill="none" stroke="#b8b8b8" stroke-width="1.2"/>
<polyline points="412.3,144.2 427.8,141.3 442.9,126 458.5,117.5 474,109.7" fill="none" stroke="#b8b8b8" stroke-width="1.2"/>
<circle cx="412.3" cy="144.2" r="2.3" fill="#fff" stroke="#999" stroke-width="0.9"/>
<circle cx="427.8" cy="141.3" r="2.3" fill="#fff" stroke="#999" stroke-width="0.9"/>
<circle cx="442.9" cy="135.1" r="2.3" fill="#fff" stroke="#999" stroke-width="0.9"/>
<circle cx="458.5" cy="132.5" r="2.3" fill="#fff" stroke="#999" stroke-width="0.9"/>
<circle cx="474" cy="132.5" r="2.3" fill="#fff" stroke="#999" stroke-width="0.9"/>
<circle cx="412.3" cy="144.2" r="2.3" fill="#000" stroke="none" stroke-width="1"/>
<circle cx="427.8" cy="141.3" r="2.3" fill="#000" stroke="none" stroke-width="1"/>
<circle cx="442.9" cy="126" r="2.3" fill="#000" stroke="none" stroke-width="1"/>
<circle cx="458.5" cy="117.5" r="2.3" fill="#000" stroke="none" stroke-width="1"/>
<circle cx="474" cy="109.7" r="2.3" fill="#000" stroke="none" stroke-width="1"/>
<text x="376.5" y="66.8" font-size="9.6" font-weight="bold" font-style="normal" text-anchor="end" fill="#000">Naive</text>
<text x="483.3" y="67.3" font-size="9.2" font-weight="bold" font-style="normal" text-anchor="end" fill="#000">CM</text>
<text x="376.5" y="147.4" font-size="9.2" font-weight="bold" font-style="normal" text-anchor="end" fill="#000">EM</text>
<text x="468.5" y="147.0" font-size="9.2" font-weight="bold">EM<tspan font-size="6.2" dy="2.4">CD45RA+</tspan></text>
<text x="353" y="21.9" font-size="8.3" fill="#222" stroke="#222" stroke-width="0.15"><tspan font-style="italic">P</tspan>=.280</text>
<text x="455.1" y="101.1" font-size="8.3" fill="#222" stroke="#222" stroke-width="0.15"><tspan font-style="italic">P</tspan>=.002</text>
<text x="438.2" y="112.3" font-size="8.3" fill="#222" stroke="#222" stroke-width="0.15"><tspan font-style="italic">P</tspan>=.043</text>
<line x1="281.1" y1="156" x2="281.1" y2="11.3" stroke="#333" stroke-width="1.7"/>
<path d="M281.1,6.8 L278.7,11.8 L283.5,11.8 Z" fill="#000"/>
<text x="278.1" y="87.8" font-size="9.6" font-weight="bold" text-anchor="middle" transform="rotate(-90 278.1 87.8)">Median FI (<tspan font-style="italic" font-weight="normal">&#8710;</tspan>) of P-STAT5</text>
<path d="M296.90,238.60 C297.62,238.34 301.96,236.94 303.10,236.38 C304.24,235.81 305.96,234.37 306.70,233.75 C307.44,233.12 308.82,231.44 309.40,231.01 C309.98,230.59 311.25,231.15 311.70,230.10 C312.15,229.05 312.95,225.05 313.30,222.01 C313.65,218.96 314.41,208.62 314.70,203.99 C314.99,199.37 315.59,185.60 315.80,182.34 C316.01,179.08 316.31,176.06 316.50,176.06 C316.69,176.06 317.13,179.08 317.40,182.34 C317.67,185.60 318.47,198.94 318.80,203.99 C319.13,209.05 319.80,221.91 320.20,225.65 C320.60,229.39 321.70,234.56 322.20,236.07 C322.70,237.58 324.23,238.31 324.50,238.60 Z" fill="#c2c2c2" stroke="none"/>
<clipPath id="cd0"><path d="M296.90,238.60 C297.62,238.34 301.96,236.94 303.10,236.38 C304.24,235.81 305.96,234.37 306.70,233.75 C307.44,233.12 308.82,231.44 309.40,231.01 C309.98,230.59 311.25,231.15 311.70,230.10 C312.15,229.05 312.95,225.05 313.30,222.01 C313.65,218.96 314.41,208.62 314.70,203.99 C314.99,199.37 315.59,185.60 315.80,182.34 C316.01,179.08 316.31,176.06 316.50,176.06 C316.69,176.06 317.13,179.08 317.40,182.34 C317.67,185.60 318.47,198.94 318.80,203.99 C319.13,209.05 319.80,221.91 320.20,225.65 C320.60,229.39 321.70,234.56 322.20,236.07 C322.70,237.58 324.23,238.31 324.50,238.60 Z"/></clipPath>
<path d="M281.80,237.29 C282.01,237.07 283.09,235.98 283.60,235.47 C284.11,234.95 285.48,233.35 286.20,232.83 C286.92,232.31 289.06,231.01 289.80,231.01 C290.54,231.01 291.88,232.21 292.50,232.83 C293.12,233.46 294.48,236.00 295.10,236.38 C295.72,236.75 297.06,236.29 297.80,236.07 C298.54,235.86 300.57,235.04 301.40,234.55 C302.23,234.07 304.07,232.44 304.90,231.92 C305.73,231.40 307.78,230.53 308.50,230.10 C309.22,229.68 310.59,229.23 311.10,228.28 C311.61,227.34 312.53,224.84 312.90,222.01 C313.27,219.17 313.99,208.62 314.30,203.99 C314.62,199.37 315.34,185.74 315.60,182.34 C315.86,178.94 316.29,174.85 316.50,174.85 C316.71,174.85 317.15,178.94 317.40,182.34 C317.64,185.74 318.30,198.94 318.60,203.99 C318.90,209.05 319.63,221.98 320.00,225.65 C320.37,229.32 321.28,234.03 321.80,235.47 C322.32,236.91 323.54,237.65 324.50,238.00 C325.46,238.34 326.17,238.35 330.00,238.40 C333.83,238.45 354.12,238.40 357.30,238.40 Z" fill="#b2b2b2" clip-path="url(#cd0)"/>
<rect x="281" y="170.6" width="76.3" height="68" fill="none" stroke="#a8a8a8" stroke-width="0.8"/>
<path d="M281.20,238.10 C282.23,238.08 288.21,238.05 290.00,238.00 C291.79,237.94 295.59,237.79 296.50,237.59 C297.41,237.39 297.49,237.25 297.80,236.27 C298.12,235.30 298.83,232.33 299.20,229.19 C299.57,226.05 300.58,213.97 301.00,209.36 C301.42,204.74 302.43,193.51 302.80,189.62 C303.17,185.74 303.91,177.79 304.20,176.06 C304.49,174.34 305.06,174.32 305.30,174.85 C305.55,175.38 306.03,178.27 306.30,180.62 C306.57,182.97 307.31,191.00 307.60,194.99 C307.89,198.98 308.50,210.83 308.80,214.82 C309.10,218.81 309.83,226.89 310.20,229.19 C310.57,231.49 311.58,233.61 312.00,234.55 C312.42,235.50 313.10,236.87 313.80,237.29 C314.50,237.70 317.51,238.00 318.00,238.10" fill="none" stroke="#6e6e6e" stroke-width="0.9" stroke-linejoin="round"/>
<path d="M281.80,237.29 C282.01,237.07 283.09,235.98 283.60,235.47 C284.11,234.95 285.48,233.35 286.20,232.83 C286.92,232.31 289.06,231.01 289.80,231.01 C290.54,231.01 291.88,232.21 292.50,232.83 C293.12,233.46 294.48,236.00 295.10,236.38 C295.72,236.75 297.06,236.29 297.80,236.07 C298.54,235.86 300.57,235.04 301.40,234.55 C302.23,234.07 304.07,232.44 304.90,231.92 C305.73,231.40 307.78,230.53 308.50,230.10 C309.22,229.68 310.59,229.23 311.10,228.28 C311.61,227.34 312.53,224.84 312.90,222.01 C313.27,219.17 313.99,208.62 314.30,203.99 C314.62,199.37 315.34,185.74 315.60,182.34 C315.86,178.94 316.29,174.85 316.50,174.85 C316.71,174.85 317.15,178.94 317.40,182.34 C317.64,185.74 318.30,198.94 318.60,203.99 C318.90,209.05 319.63,221.98 320.00,225.65 C320.37,229.32 321.28,234.03 321.80,235.47 C322.32,236.91 323.54,237.65 324.50,238.00 C325.46,238.34 326.17,238.35 330.00,238.40 C333.83,238.45 354.12,238.40 357.30,238.40" fill="none" stroke="#1a1a1a" stroke-width="1.15" stroke-linejoin="round"/>
<path d="M363.80,238.60 C364.84,238.45 370.83,237.65 372.70,237.29 C374.57,236.92 378.35,235.88 379.80,235.47 C381.25,235.05 383.96,233.89 385.10,233.75 C386.24,233.60 388.77,234.78 389.60,234.25 C390.43,233.72 391.64,230.83 392.20,229.19 C392.76,227.55 393.98,223.12 394.40,220.19 C394.82,217.25 395.50,208.41 395.80,203.99 C396.10,199.58 396.77,185.60 397.00,182.34 C397.23,179.08 397.60,176.06 397.80,176.06 C398.00,176.06 398.43,179.08 398.70,182.34 C398.97,185.60 399.77,198.94 400.10,203.99 C400.43,209.05 401.13,221.87 401.50,225.65 C401.87,229.43 402.82,234.86 403.30,236.38 C403.78,237.89 405.33,238.34 405.60,238.60 Z" fill="#c2c2c2" stroke="none"/>
<clipPath id="cd1"><path d="M363.80,238.60 C364.84,238.45 370.83,237.65 372.70,237.29 C374.57,236.92 378.35,235.88 379.80,235.47 C381.25,235.05 383.96,233.89 385.10,233.75 C386.24,233.60 388.77,234.78 389.60,234.25 C390.43,233.72 391.64,230.83 392.20,229.19 C392.76,227.55 393.98,223.12 394.40,220.19 C394.82,217.25 395.50,208.41 395.80,203.99 C396.10,199.58 396.77,185.60 397.00,182.34 C397.23,179.08 397.60,176.06 397.80,176.06 C398.00,176.06 398.43,179.08 398.70,182.34 C398.97,185.60 399.77,198.94 400.10,203.99 C400.43,209.05 401.13,221.87 401.50,225.65 C401.87,229.43 402.82,234.86 403.30,236.38 C403.78,237.89 405.33,238.34 405.60,238.60 Z"/></clipPath>
<path d="M363.40,236.38 C363.85,236.34 366.22,236.18 367.30,236.07 C368.38,235.97 371.45,235.64 372.70,235.47 C373.95,235.29 376.86,234.97 378.00,234.55 C379.14,234.14 381.57,232.34 382.50,231.92 C383.43,231.51 385.17,231.01 386.00,231.01 C386.83,231.01 388.88,232.14 389.60,231.92 C390.32,231.71 391.69,230.35 392.20,229.19 C392.71,228.03 393.62,224.95 394.00,222.01 C394.38,219.07 395.19,208.62 395.50,203.99 C395.81,199.37 396.45,185.74 396.70,182.34 C396.94,178.94 397.39,174.85 397.60,174.85 C397.81,174.85 398.25,178.94 398.50,182.34 C398.75,185.74 399.40,198.94 399.70,203.99 C400.00,209.05 400.73,221.87 401.10,225.65 C401.47,229.43 402.38,234.91 402.90,236.38 C403.42,237.84 404.54,237.96 405.60,238.20 C406.66,238.43 408.03,238.38 412.00,238.40 C415.97,238.42 436.38,238.40 439.60,238.40 Z" fill="#b2b2b2" clip-path="url(#cd1)"/>
<rect x="363.4" y="170.6" width="76.2" height="68" fill="none" stroke="#a8a8a8" stroke-width="0.8"/>
<path d="M363.40,237.79 C363.76,237.62 365.79,236.92 366.50,236.27 C367.21,235.63 368.82,233.05 369.50,232.23 C370.18,231.40 371.62,229.78 372.30,229.19 C372.98,228.60 374.63,227.64 375.30,227.17 C375.97,226.70 377.48,225.73 378.00,225.14 C378.52,224.55 379.43,223.35 379.80,222.11 C380.17,220.87 380.88,216.31 381.20,214.52 C381.51,212.72 382.15,209.43 382.50,206.73 C382.85,204.02 383.83,194.92 384.20,191.34 C384.57,187.77 385.38,177.99 385.70,176.06 C386.01,174.14 386.61,174.85 386.90,174.85 C387.19,174.85 387.88,174.14 388.20,176.06 C388.51,177.99 389.30,187.57 389.60,191.34 C389.90,195.12 390.53,205.60 390.80,208.45 C391.07,211.29 391.63,215.93 391.90,215.73 C392.17,215.53 392.79,208.10 393.10,206.73 C393.42,205.36 394.26,204.86 394.60,203.99 C394.94,203.13 395.69,200.94 396.00,199.34 C396.31,197.73 397.15,191.29 397.30,190.23" fill="none" stroke="#6e6e6e" stroke-width="0.9" stroke-linejoin="round"/>
<path d="M363.40,236.38 C363.85,236.34 366.22,236.18 367.30,236.07 C368.38,235.97 371.45,235.64 372.70,235.47 C373.95,235.29 376.86,234.97 378.00,234.55 C379.14,234.14 381.57,232.34 382.50,231.92 C383.43,231.51 385.17,231.01 386.00,231.01 C386.83,231.01 388.88,232.14 389.60,231.92 C390.32,231.71 391.69,230.35 392.20,229.19 C392.71,228.03 393.62,224.95 394.00,222.01 C394.38,219.07 395.19,208.62 395.50,203.99 C395.81,199.37 396.45,185.74 396.70,182.34 C396.94,178.94 397.39,174.85 397.60,174.85 C397.81,174.85 398.25,178.94 398.50,182.34 C398.75,185.74 399.40,198.94 399.70,203.99 C400.00,209.05 400.73,221.87 401.10,225.65 C401.47,229.43 402.38,234.91 402.90,236.38 C403.42,237.84 404.54,237.96 405.60,238.20 C406.66,238.43 408.03,238.38 412.00,238.40 C415.97,238.42 436.38,238.40 439.60,238.40" fill="none" stroke="#1a1a1a" stroke-width="1.15" stroke-linejoin="round"/>
<path d="M282.00,310.91 C282.19,310.61 283.11,308.94 283.60,308.37 C284.09,307.80 285.58,306.16 286.20,306.03 C286.82,305.90 288.07,307.16 288.90,307.25 C289.73,307.35 292.37,307.52 293.30,306.84 C294.23,306.17 296.16,302.93 296.90,301.46 C297.63,299.99 299.08,295.51 299.60,294.24 C300.12,292.97 301.03,291.31 301.40,290.58 C301.77,289.84 302.50,288.04 302.80,287.94 C303.10,287.83 303.65,288.93 304.00,289.66 C304.35,290.40 305.38,293.60 305.80,294.24 C306.22,294.88 307.18,295.15 307.60,295.15 C308.02,295.15 309.05,294.56 309.40,294.24 C309.75,293.92 310.33,293.46 310.60,292.41 C310.87,291.35 311.45,288.57 311.70,285.19 C311.94,281.81 312.45,267.66 312.70,263.44 C312.94,259.22 313.59,250.85 313.80,249.00 C314.01,247.15 314.31,247.15 314.50,247.58 C314.69,248.01 315.13,250.17 315.40,252.66 C315.67,255.15 316.46,264.50 316.80,268.93 C317.14,273.35 317.99,286.46 318.30,290.58 C318.62,294.69 319.15,301.98 319.50,304.20 C319.85,306.42 320.72,308.81 321.30,309.59 C321.88,310.37 324.13,310.76 324.50,310.91 Z" fill="#c2c2c2" stroke="none"/>
<clipPath id="cd2"><path d="M282.00,310.91 C282.19,310.61 283.11,308.94 283.60,308.37 C284.09,307.80 285.58,306.16 286.20,306.03 C286.82,305.90 288.07,307.16 288.90,307.25 C289.73,307.35 292.37,307.52 293.30,306.84 C294.23,306.17 296.16,302.93 296.90,301.46 C297.63,299.99 299.08,295.51 299.60,294.24 C300.12,292.97 301.03,291.31 301.40,290.58 C301.77,289.84 302.50,288.04 302.80,287.94 C303.10,287.83 303.65,288.93 304.00,289.66 C304.35,290.40 305.38,293.60 305.80,294.24 C306.22,294.88 307.18,295.15 307.60,295.15 C308.02,295.15 309.05,294.56 309.40,294.24 C309.75,293.92 310.33,293.46 310.60,292.41 C310.87,291.35 311.45,288.57 311.70,285.19 C311.94,281.81 312.45,267.66 312.70,263.44 C312.94,259.22 313.59,250.85 313.80,249.00 C314.01,247.15 314.31,247.15 314.50,247.58 C314.69,248.01 315.13,250.17 315.40,252.66 C315.67,255.15 316.46,264.50 316.80,268.93 C317.14,273.35 317.99,286.46 318.30,290.58 C318.62,294.69 319.15,301.98 319.50,304.20 C319.85,306.42 320.72,308.81 321.30,309.59 C321.88,310.37 324.13,310.76 324.50,310.91 Z"/></clipPath>
<path d="M281.80,310.10 C282.42,310.04 286.06,309.79 287.10,309.59 C288.14,309.39 289.87,309.10 290.70,308.37 C291.53,307.63 293.48,304.72 294.20,303.29 C294.92,301.85 296.38,298.39 296.90,296.07 C297.42,293.74 298.35,286.33 298.70,283.36 C299.05,280.40 299.63,272.98 299.90,270.66 C300.17,268.33 300.73,264.39 301.00,263.44 C301.27,262.49 301.91,262.10 302.20,262.52 C302.49,262.95 303.19,265.94 303.50,267.10 C303.81,268.26 304.53,271.02 304.90,272.49 C305.27,273.96 306.28,278.11 306.70,279.70 C307.12,281.29 308.13,285.47 308.50,286.11 C308.87,286.75 309.60,286.35 309.90,285.19 C310.20,284.03 310.81,278.88 311.10,276.15 C311.39,273.41 312.12,264.88 312.40,261.71 C312.68,258.54 313.29,250.74 313.50,249.00 C313.71,247.27 314.01,246.66 314.20,246.87 C314.39,247.08 314.83,248.47 315.10,250.83 C315.37,253.19 316.17,262.67 316.50,267.10 C316.83,271.52 317.60,284.53 317.90,288.75 C318.20,292.97 318.75,300.96 319.10,303.29 C319.45,305.61 320.27,307.86 320.90,308.67 C321.53,309.49 323.44,310.09 324.50,310.30 C325.56,310.51 326.17,310.48 330.00,310.50 C333.83,310.53 354.12,310.50 357.30,310.50 Z" fill="#b2b2b2" clip-path="url(#cd2)"/>
<rect x="281.2" y="242.6" width="76.1" height="68" fill="none" stroke="#a8a8a8" stroke-width="0.8"/>
<path d="M286.00,310.30 C286.55,310.22 289.74,310.19 290.70,309.59 C291.66,308.98 293.48,306.91 294.20,305.12 C294.92,303.33 296.38,297.62 296.90,294.24 C297.42,290.86 298.35,280.37 298.70,276.15 C299.05,271.92 299.63,261.32 299.90,258.05 C300.17,254.78 300.73,249.36 301.00,248.09 C301.27,246.82 301.95,246.85 302.20,247.17 C302.44,247.49 302.82,248.51 303.10,250.83 C303.38,253.16 304.23,263.30 304.60,267.10 C304.97,270.89 305.89,280.41 306.30,283.36 C306.71,286.32 307.74,291.14 308.10,292.41 C308.46,293.68 309.11,294.24 309.40,294.24 C309.69,294.24 310.33,292.84 310.60,292.41 C310.87,291.98 311.47,290.53 311.70,290.58 C311.93,290.63 312.39,291.61 312.60,292.82 C312.81,294.03 313.28,299.29 313.50,300.95 C313.72,302.61 314.21,306.00 314.50,307.05 C314.79,308.09 315.36,309.50 316.00,309.89 C316.64,310.28 319.53,310.34 320.00,310.40" fill="none" stroke="#6e6e6e" stroke-width="0.9" stroke-linejoin="round"/>
<path d="M281.80,310.10 C282.42,310.04 286.06,309.79 287.10,309.59 C288.14,309.39 289.87,309.10 290.70,308.37 C291.53,307.63 293.48,304.72 294.20,303.29 C294.92,301.85 296.38,298.39 296.90,296.07 C297.42,293.74 298.35,286.33 298.70,283.36 C299.05,280.40 299.63,272.98 299.90,270.66 C300.17,268.33 300.73,264.39 301.00,263.44 C301.27,262.49 301.91,262.10 302.20,262.52 C302.49,262.95 303.19,265.94 303.50,267.10 C303.81,268.26 304.53,271.02 304.90,272.49 C305.27,273.96 306.28,278.11 306.70,279.70 C307.12,281.29 308.13,285.47 308.50,286.11 C308.87,286.75 309.60,286.35 309.90,285.19 C310.20,284.03 310.81,278.88 311.10,276.15 C311.39,273.41 312.12,264.88 312.40,261.71 C312.68,258.54 313.29,250.74 313.50,249.00 C313.71,247.27 314.01,246.66 314.20,246.87 C314.39,247.08 314.83,248.47 315.10,250.83 C315.37,253.19 316.17,262.67 316.50,267.10 C316.83,271.52 317.60,284.53 317.90,288.75 C318.20,292.97 318.75,300.96 319.10,303.29 C319.45,305.61 320.27,307.86 320.90,308.67 C321.53,309.49 323.44,310.09 324.50,310.30 C325.56,310.51 326.17,310.48 330.00,310.50 C333.83,310.53 354.12,310.50 357.30,310.50" fill="none" stroke="#1a1a1a" stroke-width="1.15" stroke-linejoin="round"/>
<path d="M365.60,310.91 C366.43,310.76 371.46,310.06 372.70,309.59 C373.94,309.11 375.48,308.01 376.20,306.84 C376.92,305.68 378.32,301.10 378.90,299.63 C379.48,298.16 380.72,295.19 381.20,294.24 C381.68,293.29 382.58,291.60 383.00,291.49 C383.42,291.39 384.35,292.70 384.80,293.32 C385.25,293.95 386.34,296.04 386.90,296.88 C387.46,297.72 389.08,299.90 389.60,300.54 C390.12,301.18 390.99,302.48 391.40,302.37 C391.81,302.26 392.75,301.63 393.10,299.63 C393.45,297.62 394.12,288.99 394.40,285.19 C394.68,281.40 395.25,270.89 395.50,267.10 C395.75,263.30 396.28,254.99 396.50,252.66 C396.72,250.34 397.17,247.17 397.40,247.17 C397.63,247.17 398.23,250.34 398.50,252.66 C398.77,254.99 399.40,263.30 399.70,267.10 C400.00,270.89 400.73,281.40 401.10,285.19 C401.47,288.99 402.43,296.99 402.90,299.63 C403.37,302.26 404.58,306.44 405.10,307.76 C405.62,309.08 407.13,310.54 407.40,310.91 Z" fill="#c2c2c2" stroke="none"/>
<clipPath id="cd3"><path d="M365.60,310.91 C366.43,310.76 371.46,310.06 372.70,309.59 C373.94,309.11 375.48,308.01 376.20,306.84 C376.92,305.68 378.32,301.10 378.90,299.63 C379.48,298.16 380.72,295.19 381.20,294.24 C381.68,293.29 382.58,291.60 383.00,291.49 C383.42,291.39 384.35,292.70 384.80,293.32 C385.25,293.95 386.34,296.04 386.90,296.88 C387.46,297.72 389.08,299.90 389.60,300.54 C390.12,301.18 390.99,302.48 391.40,302.37 C391.81,302.26 392.75,301.63 393.10,299.63 C393.45,297.62 394.12,288.99 394.40,285.19 C394.68,281.40 395.25,270.89 395.50,267.10 C395.75,263.30 396.28,254.99 396.50,252.66 C396.72,250.34 397.17,247.17 397.40,247.17 C397.63,247.17 398.23,250.34 398.50,252.66 C398.77,254.99 399.40,263.30 399.70,267.10 C400.00,270.89 400.73,281.40 401.10,285.19 C401.47,288.99 402.43,296.99 402.90,299.63 C403.37,302.26 404.58,306.44 405.10,307.76 C405.62,309.08 407.13,310.54 407.40,310.91 Z"/></clipPath>
<path d="M364.10,309.59 C364.37,309.32 365.82,307.57 366.40,307.25 C366.98,306.93 368.47,306.84 369.10,306.84 C369.73,306.84 371.08,307.50 371.80,307.25 C372.52,307.00 374.58,305.81 375.30,304.71 C376.02,303.61 377.48,300.07 378.00,297.80 C378.52,295.52 379.43,288.36 379.80,285.19 C380.17,282.03 380.88,274.04 381.20,270.66 C381.51,267.28 382.21,258.75 382.50,256.22 C382.79,253.70 383.45,250.06 383.70,249.00 C383.94,247.95 384.39,246.75 384.60,247.17 C384.81,247.60 385.23,250.55 385.50,252.66 C385.77,254.77 386.53,262.11 386.90,265.27 C387.27,268.42 388.28,277.06 388.70,279.70 C389.12,282.35 390.13,287.08 390.50,287.94 C390.87,288.79 391.60,287.88 391.90,287.02 C392.20,286.17 392.86,281.57 393.10,280.62 C393.35,279.67 393.74,278.57 394.00,278.89 C394.26,279.21 395.03,281.57 395.30,283.36 C395.57,285.15 396.03,291.71 396.30,294.24 C396.57,296.77 397.24,303.22 397.60,305.01 C397.96,306.80 398.78,308.96 399.40,309.59 C400.02,310.22 398.21,310.29 402.90,310.40 C407.59,310.51 435.32,310.49 439.60,310.50 Z" fill="#b2b2b2" clip-path="url(#cd3)"/>
<rect x="363.8" y="242.6" width="75.8" height="68" fill="none" stroke="#a8a8a8" stroke-width="0.8"/>
<path d="M365.60,308.67 C366.01,308.64 368.06,308.58 369.10,308.37 C370.14,308.16 373.46,307.86 374.50,306.84 C375.54,305.82 377.38,301.94 378.00,299.63 C378.62,297.31 379.38,290.60 379.80,287.02 C380.22,283.44 381.23,272.73 381.60,268.93 C381.97,265.12 382.70,256.82 383.00,254.39 C383.30,251.96 383.95,248.72 384.20,248.09 C384.44,247.46 384.87,248.06 385.10,249.00 C385.33,249.95 385.99,253.90 386.20,256.22 C386.41,258.55 386.61,265.55 386.90,268.93 C387.19,272.31 388.33,282.24 388.70,285.19 C389.07,288.15 389.79,292.76 390.10,294.24 C390.42,295.72 391.11,297.27 391.40,297.90 C391.69,298.53 392.33,299.53 392.60,299.63 C392.87,299.72 393.47,298.50 393.70,298.71 C393.93,298.93 394.36,300.51 394.60,301.46 C394.85,302.41 395.45,305.90 395.80,306.84 C396.15,307.79 397.11,309.17 397.60,309.59 C398.09,310.00 399.72,310.31 400.00,310.40" fill="none" stroke="#6e6e6e" stroke-width="0.9" stroke-linejoin="round"/>
<path d="M364.10,309.59 C364.37,309.32 365.82,307.57 366.40,307.25 C366.98,306.93 368.47,306.84 369.10,306.84 C369.73,306.84 371.08,307.50 371.80,307.25 C372.52,307.00 374.58,305.81 375.30,304.71 C376.02,303.61 377.48,300.07 378.00,297.80 C378.52,295.52 379.43,288.36 379.80,285.19 C380.17,282.03 380.88,274.04 381.20,270.66 C381.51,267.28 382.21,258.75 382.50,256.22 C382.79,253.70 383.45,250.06 383.70,249.00 C383.94,247.95 384.39,246.75 384.60,247.17 C384.81,247.60 385.23,250.55 385.50,252.66 C385.77,254.77 386.53,262.11 386.90,265.27 C387.27,268.42 388.28,277.06 388.70,279.70 C389.12,282.35 390.13,287.08 390.50,287.94 C390.87,288.79 391.60,287.88 391.90,287.02 C392.20,286.17 392.86,281.57 393.10,280.62 C393.35,279.67 393.74,278.57 394.00,278.89 C394.26,279.21 395.03,281.57 395.30,283.36 C395.57,285.15 396.03,291.71 396.30,294.24 C396.57,296.77 397.24,303.22 397.60,305.01 C397.96,306.80 398.78,308.96 399.40,309.59 C400.02,310.22 398.21,310.29 402.90,310.40 C407.59,310.51 435.32,310.49 439.60,310.50" fill="none" stroke="#1a1a1a" stroke-width="1.15" stroke-linejoin="round"/>
<text x="352.5" y="185.3" font-size="9" font-weight="bold" font-style="normal" text-anchor="end" fill="#000">Naive</text>
<text x="431.6" y="185" font-size="9" font-weight="bold" font-style="normal" text-anchor="end" fill="#000" textLength="13.0" lengthAdjust="spacingAndGlyphs">CM</text>
<text x="347.4" y="255" font-size="9" font-weight="bold" font-style="normal" text-anchor="end" fill="#000">EM</text>
<text x="400.8" y="255.0" font-size="9.0" font-weight="bold">EM<tspan font-size="5.4" dy="2.2">CD45RA+</tspan></text>
<line x1="283.8" y1="316.6" x2="336.3" y2="316.6" stroke="#000" stroke-width="1.3"/>
<path d="M340.6,316.6 L335.8,314.5 L335.8,318.7 Z" fill="#000"/>
<text x="306.6" y="326.4" font-size="9.7" font-weight="bold" font-style="normal" text-anchor="middle" fill="#000">BCL-2</text>
<rect x="454.0" y="271.2" width="13.2" height="8.6" fill="none" stroke="#000" stroke-width="1.5" stroke-linecap="round" stroke-dasharray="0.01,2.45"/>
<rect x="453.6" y="284.3" width="13.6" height="7.9" fill="#fff" stroke="#000" stroke-width="1.6"/>
<rect x="453.2" y="296.8" width="13.8" height="9" fill="#9c9c9c" stroke="none" stroke-width="1"/>
<text x="471.8" y="278.6" font-size="8.6" font-weight="normal" font-style="normal" text-anchor="start" fill="#111">PBS</text>
<text x="471.8" y="291.6" font-size="8.3" font-weight="normal" font-style="normal" text-anchor="start" fill="#111">IL-7 (elderly)</text>
<text x="471.8" y="304.8" font-size="8.3" font-weight="normal" font-style="normal" text-anchor="start" fill="#111">IL-7 (young)</text>
<line x1="45.4" y1="341.8" x2="45.4" y2="411.8" stroke="#c8c8c8" stroke-width="0.9"/>
<line x1="45.4" y1="411.8" x2="130" y2="411.8" stroke="#c8c8c8" stroke-width="0.9"/>
<text x="41.4" y="355.2" font-size="5.6" font-weight="bold" font-style="normal" text-anchor="end" fill="#222" stroke="#222" stroke-width="0.25">50</text>
<text x="41.4" y="366.92" font-size="5.6" font-weight="bold" font-style="normal" text-anchor="end" fill="#222" stroke="#222" stroke-width="0.25">40</text>
<text x="41.4" y="378.64" font-size="5.6" font-weight="bold" font-style="normal" text-anchor="end" fill="#222" stroke="#222" stroke-width="0.25">30</text>
<text x="41.4" y="390.36" font-size="5.6" font-weight="bold" font-style="normal" text-anchor="end" fill="#222" stroke="#222" stroke-width="0.25">20</text>
<text x="41.4" y="402.08" font-size="5.6" font-weight="bold" font-style="normal" text-anchor="end" fill="#222" stroke="#222" stroke-width="0.25">10</text>
<text x="41.4" y="413.8" font-size="5.6" font-weight="bold" font-style="normal" text-anchor="end" fill="#222" stroke="#222" stroke-width="0.25">0</text>
<circle cx="70.5" cy="348.25" r="2.2" fill="#fff" stroke="#a6a6a6" stroke-width="1"/>
<circle cx="70.75" cy="354.5" r="2.2" fill="#fff" stroke="#a6a6a6" stroke-width="1"/>
<circle cx="70.5" cy="384.5" r="2.2" fill="#fff" stroke="#a6a6a6" stroke-width="1"/>
<circle cx="70.5" cy="399.5" r="2.2" fill="#fff" stroke="#a6a6a6" stroke-width="1"/>
<circle cx="102" cy="374" r="2.5" fill="#000" stroke="none" stroke-width="1"/>
<circle cx="102" cy="381.5" r="2.5" fill="#000" stroke="none" stroke-width="1"/>
<circle cx="102" cy="389" r="2.5" fill="#000" stroke="none" stroke-width="1"/>
<circle cx="102" cy="391.5" r="2.5" fill="#000" stroke="none" stroke-width="1"/>
<circle cx="102" cy="396.5" r="2.5" fill="#000" stroke="none" stroke-width="1"/>
<line x1="64.5" y1="376.25" x2="78" y2="376.25" stroke="#000" stroke-width="1" stroke-dasharray="3.2,1.9"/>
<line x1="96.25" y1="386.75" x2="108.75" y2="386.75" stroke="#000" stroke-width="1" stroke-dasharray="3.2,1.9"/>
<text x="73.7" y="344.9" font-size="8.0" fill="#222" stroke="#222" stroke-width="0.12"><tspan font-style="italic">P</tspan>= .462</text>
<text x="104.3" y="407.1" font-size="9.3" font-weight="bold">Naive</text>
<line x1="148" y1="341.8" x2="148" y2="411.8" stroke="#c8c8c8" stroke-width="0.9"/>
<line x1="148" y1="411.8" x2="232" y2="411.8" stroke="#c8c8c8" stroke-width="0.9"/>
<text x="144" y="355.2" font-size="5.6" font-weight="bold" font-style="normal" text-anchor="end" fill="#222" stroke="#222" stroke-width="0.25">50</text>
<text x="144" y="366.92" font-size="5.6" font-weight="bold" font-style="normal" text-anchor="end" fill="#222" stroke="#222" stroke-width="0.25">40</text>
<text x="144" y="378.64" font-size="5.6" font-weight="bold" font-style="normal" text-anchor="end" fill="#222" stroke="#222" stroke-width="0.25">30</text>
<text x="144" y="390.36" font-size="5.6" font-weight="bold" font-style="normal" text-anchor="end" fill="#222" stroke="#222" stroke-width="0.25">20</text>
<text x="144" y="402.08" font-size="5.6" font-weight="bold" font-style="normal" text-anchor="end" fill="#222" stroke="#222" stroke-width="0.25">10</text>
<text x="144" y="413.8" font-size="5.6" font-weight="bold" font-style="normal" text-anchor="end" fill="#222" stroke="#222" stroke-width="0.25">0</text>
<circle cx="173.25" cy="369" r="2.2" fill="#fff" stroke="#a6a6a6" stroke-width="1"/>
<circle cx="173.25" cy="389.5" r="2.2" fill="#fff" stroke="#a6a6a6" stroke-width="1"/>
<circle cx="204.5" cy="350" r="2.5" fill="#000" stroke="none" stroke-width="1"/>
<circle cx="204.5" cy="361.25" r="2.5" fill="#000" stroke="none" stroke-width="1"/>
<circle cx="204.5" cy="381.75" r="2.5" fill="#000" stroke="none" stroke-width="1"/>
<line x1="167.5" y1="380.5" x2="180.5" y2="380.5" stroke="#000" stroke-width="1" stroke-dasharray="3.2,1.9"/>
<line x1="199" y1="378.25" x2="213" y2="378.25" stroke="#000" stroke-width="1" stroke-dasharray="3.2,1.9"/>
<text x="170" y="344.9" font-size="8.0" fill="#222" stroke="#222" stroke-width="0.12"><tspan font-style="italic">P</tspan>= .248</text>
<text x="215.5" y="407.1" font-size="9.7" font-weight="bold">CM</text>
<line x1="247.2" y1="341.8" x2="247.2" y2="411.8" stroke="#c8c8c8" stroke-width="0.9"/>
<line x1="247.2" y1="411.8" x2="335" y2="411.8" stroke="#c8c8c8" stroke-width="0.9"/>
<text x="243.2" y="355.2" font-size="5.6" font-weight="bold" font-style="normal" text-anchor="end" fill="#222" stroke="#222" stroke-width="0.25">50</text>
<text x="243.2" y="366.92" font-size="5.6" font-weight="bold" font-style="normal" text-anchor="end" fill="#222" stroke="#222" stroke-width="0.25">40</text>
<text x="243.2" y="378.64" font-size="5.6" font-weight="bold" font-style="normal" text-anchor="end" fill="#222" stroke="#222" stroke-width="0.25">30</text>
<text x="243.2" y="390.36" font-size="5.6" font-weight="bold" font-style="normal" text-anchor="end" fill="#222" stroke="#222" stroke-width="0.25">20</text>
<text x="243.2" y="402.08" font-size="5.6" font-weight="bold" font-style="normal" text-anchor="end" fill="#222" stroke="#222" stroke-width="0.25">10</text>
<text x="243.2" y="413.8" font-size="5.6" font-weight="bold" font-style="normal" text-anchor="end" fill="#222" stroke="#222" stroke-width="0.25">0</text>
<circle cx="271.25" cy="353.75" r="2.2" fill="#fff" stroke="#a6a6a6" stroke-width="1"/>
<circle cx="271.25" cy="372.5" r="2.2" fill="#fff" stroke="#a6a6a6" stroke-width="1"/>
<circle cx="271.25" cy="382" r="2.2" fill="#fff" stroke="#a6a6a6" stroke-width="1"/>
<circle cx="271.25" cy="393" r="2.2" fill="#fff" stroke="#a6a6a6" stroke-width="1"/>
<circle cx="303" cy="361.75" r="2.5" fill="#000" stroke="none" stroke-width="1"/>
<circle cx="303" cy="371" r="2.5" fill="#000" stroke="none" stroke-width="1"/>
<circle cx="303" cy="378.75" r="2.5" fill="#000" stroke="none" stroke-width="1"/>
<circle cx="303" cy="380.5" r="2.5" fill="#000" stroke="none" stroke-width="1"/>
<circle cx="303" cy="382.5" r="2.5" fill="#000" stroke="none" stroke-width="1"/>
<circle cx="303" cy="389.5" r="2.5" fill="#000" stroke="none" stroke-width="1"/>
<line x1="263.75" y1="376" x2="277.5" y2="376" stroke="#000" stroke-width="1" stroke-dasharray="3.2,1.9"/>
<line x1="296.25" y1="379.5" x2="310" y2="379.5" stroke="#000" stroke-width="1" stroke-dasharray="3.2,1.9"/>
<text x="272.5" y="344.9" font-size="8.0" fill="#222" stroke="#222" stroke-width="0.12"><tspan font-style="italic">P</tspan>= .850</text>
<text x="308" y="407.1" font-size="9.7" font-weight="bold">EM</text>
<line x1="349" y1="341.8" x2="349" y2="411.8" stroke="#c8c8c8" stroke-width="0.9"/>
<line x1="349" y1="411.8" x2="448" y2="411.8" stroke="#c8c8c8" stroke-width="0.9"/>
<text x="345" y="355.2" font-size="5.6" font-weight="bold" font-style="normal" text-anchor="end" fill="#222" stroke="#222" stroke-width="0.25">50</text>
<text x="345" y="366.92" font-size="5.6" font-weight="bold" font-style="normal" text-anchor="end" fill="#222" stroke="#222" stroke-width="0.25">40</text>
<text x="345" y="378.64" font-size="5.6" font-weight="bold" font-style="normal" text-anchor="end" fill="#222" stroke="#222" stroke-width="0.25">30</text>
<text x="345" y="390.36" font-size="5.6" font-weight="bold" font-style="normal" text-anchor="end" fill="#222" stroke="#222" stroke-width="0.25">20</text>
<text x="345" y="402.08" font-size="5.6" font-weight="bold" font-style="normal" text-anchor="end" fill="#222" stroke="#222" stroke-width="0.25">10</text>
<text x="345" y="413.8" font-size="5.6" font-weight="bold" font-style="normal" text-anchor="end" fill="#222" stroke="#222" stroke-width="0.25">0</text>
<circle cx="373.25" cy="379.5" r="2.2" fill="#fff" stroke="#a6a6a6" stroke-width="1"/>
<circle cx="373.25" cy="382.5" r="2.2" fill="#fff" stroke="#a6a6a6" stroke-width="1"/>
<circle cx="373.25" cy="386.25" r="2.2" fill="#fff" stroke="#a6a6a6" stroke-width="1"/>
<circle cx="373.25" cy="389.25" r="2.2" fill="#fff" stroke="#a6a6a6" stroke-width="1"/>
<circle cx="373.25" cy="391.75" r="2.2" fill="#fff" stroke="#a6a6a6" stroke-width="1"/>
<circle cx="373.25" cy="399.25" r="2.2" fill="#fff" stroke="#a6a6a6" stroke-width="1"/>
<circle cx="405" cy="374.25" r="2.5" fill="#000" stroke="none" stroke-width="1"/>
<circle cx="405" cy="380.5" r="2.5" fill="#000" stroke="none" stroke-width="1"/>
<circle cx="405" cy="382" r="2.5" fill="#000" stroke="none" stroke-width="1"/>
<circle cx="405" cy="383.75" r="2.5" fill="#000" stroke="none" stroke-width="1"/>
<line x1="367.5" y1="389.25" x2="381.25" y2="389.25" stroke="#000" stroke-width="1" stroke-dasharray="3.2,1.9"/>
<line x1="398.75" y1="378.75" x2="412.5" y2="378.75" stroke="#000" stroke-width="1" stroke-dasharray="3.2,1.9"/>
<text x="371.2" y="344.9" font-size="8.0" fill="#222" stroke="#222" stroke-width="0.12"><tspan font-style="italic">P</tspan>= .037</text>
<text x="405.6" y="406.7" font-size="9.7" font-weight="bold">EM<tspan font-size="6.2" dy="2.5">CD45RA+</tspan></text>
<line x1="28.8" y1="412.5" x2="28.8" y2="342.3" stroke="#444" stroke-width="1.6"/>
<path d="M28.8,337.8 L26.6,342.8 L31,342.8 Z" fill="#000"/>
<text x="12.4" y="374.8" font-size="9.3" font-weight="bold" text-anchor="middle" transform="rotate(-90 12.4 374.8)"><tspan font-style="italic">&#8710;</tspan>(IL-7 &#8211; PBS) in</text>
<text x="22.7" y="373" font-size="9.5" font-weight="bold" font-style="normal" text-anchor="middle" fill="#000" transform="rotate(-90 22.7 373)">surviving cells (%)</text>
</svg>
</body></html>
